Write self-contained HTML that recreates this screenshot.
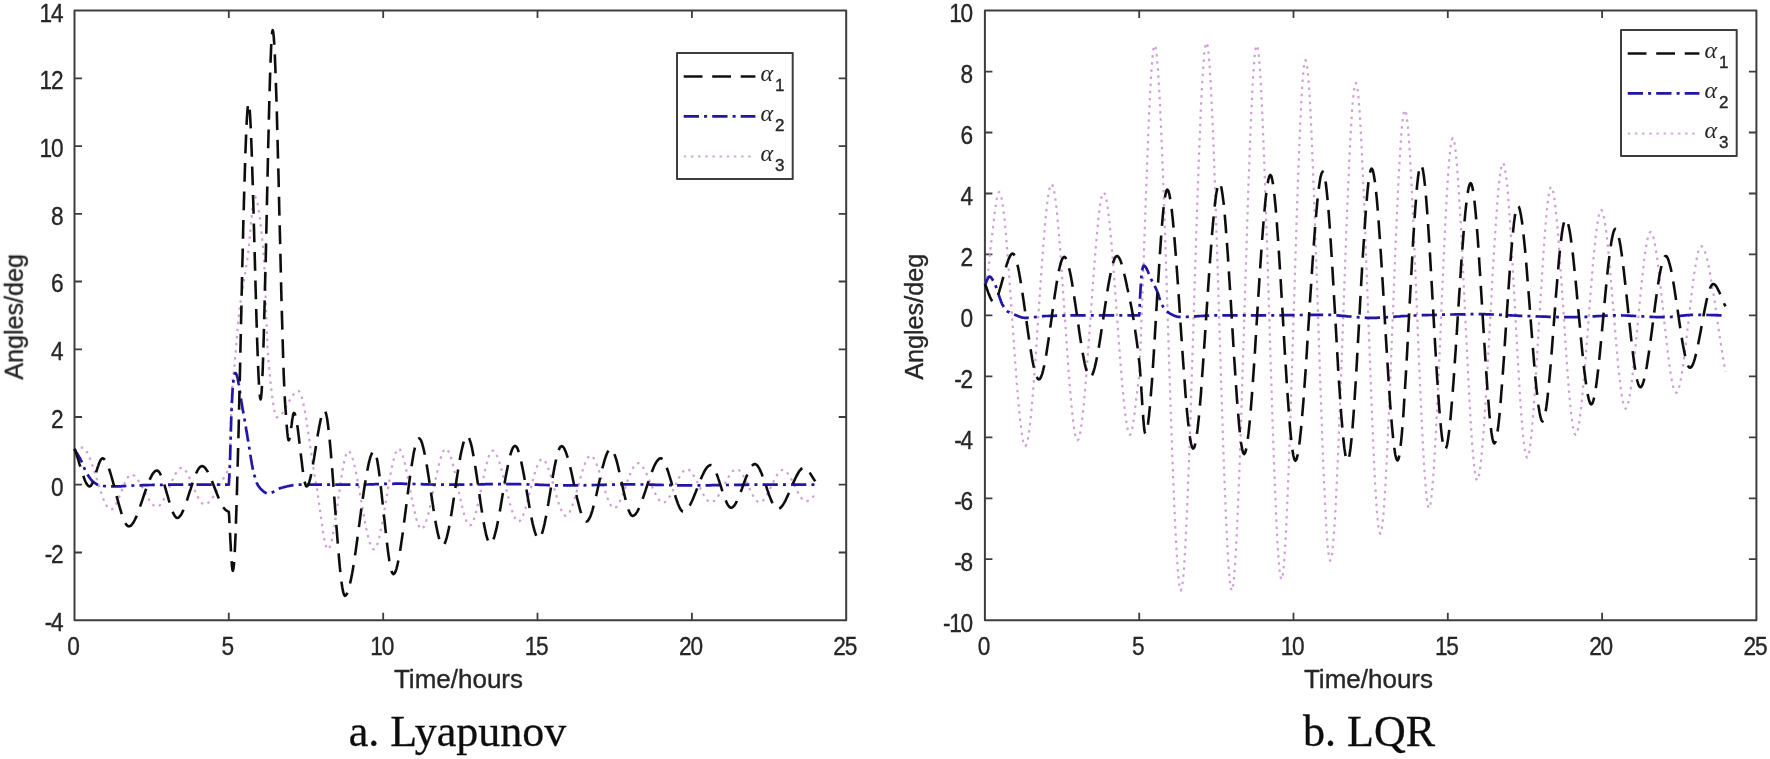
<!DOCTYPE html>
<html><head><meta charset="utf-8"><title>Angles</title>
<style>
html,body{margin:0;padding:0;background:#fff;}
body{width:1770px;height:759px;overflow:hidden;font-family:"Liberation Sans",sans-serif;}
svg{display:block}
.tk{font-family:"Liberation Sans",sans-serif;font-size:25.6px;letter-spacing:-1.4px;fill:#262626}
.lb{font-family:"Liberation Sans",sans-serif;font-size:26px;fill:#262626}
.tk,.lb,.sub{stroke:#262626;stroke-width:0.35px}
.cap{stroke:#111;stroke-width:0.3px}
.cap{font-family:"Liberation Serif",serif;font-size:44px;fill:#111}
.al{font-family:"Liberation Serif",serif;font-style:italic;font-size:24px;fill:#262626}
.sub{font-family:"Liberation Sans",sans-serif;font-size:17px;fill:#262626}
</style></head><body>
<svg width="1770" height="759" viewBox="0 0 1770 759" stroke-linejoin="round">
<defs><filter id="soft" x="0" y="0" width="1770" height="759" filterUnits="userSpaceOnUse"><feGaussianBlur stdDeviation="0.6"/></filter></defs>
<rect width="1770" height="759" fill="#fff"/>
<g filter="url(#soft)">
<path d="M228.8,620.2v-7.5M228.8,10.6v7.5M383.2,620.2v-7.5M383.2,10.6v7.5M537.5,620.2v-7.5M537.5,10.6v7.5M691.9,620.2v-7.5M691.9,10.6v7.5M74.5,552.5h7.5M846.2,552.5h-7.5M74.5,484.7h7.5M846.2,484.7h-7.5M74.5,417.0h7.5M846.2,417.0h-7.5M74.5,349.3h7.5M846.2,349.3h-7.5M74.5,281.5h7.5M846.2,281.5h-7.5M74.5,213.8h7.5M846.2,213.8h-7.5M74.5,146.1h7.5M846.2,146.1h-7.5M74.5,78.3h7.5M846.2,78.3h-7.5" stroke="#3c3c3c" stroke-width="1.8" fill="none"/>
<rect x="74.5" y="10.6" width="771.7" height="609.6" fill="none" stroke="#3c3c3c" stroke-width="2"/>
<text class="tk" transform="translate(73.0,655.2) scale(0.885,1)" text-anchor="middle">0</text>
<text class="tk" transform="translate(227.3,655.2) scale(0.885,1)" text-anchor="middle">5</text>
<text class="tk" transform="translate(381.7,655.2) scale(0.885,1)" text-anchor="middle">10</text>
<text class="tk" transform="translate(536.0,655.2) scale(0.885,1)" text-anchor="middle">15</text>
<text class="tk" transform="translate(690.4,655.2) scale(0.885,1)" text-anchor="middle">20</text>
<text class="tk" transform="translate(844.7,655.2) scale(0.885,1)" text-anchor="middle">25</text>
<text class="tk" transform="translate(62.3,631.1) scale(0.885,1)" text-anchor="end">-4</text>
<text class="tk" transform="translate(62.3,563.4) scale(0.885,1)" text-anchor="end">-2</text>
<text class="tk" transform="translate(62.3,495.6) scale(0.885,1)" text-anchor="end">0</text>
<text class="tk" transform="translate(62.3,427.9) scale(0.885,1)" text-anchor="end">2</text>
<text class="tk" transform="translate(62.3,360.2) scale(0.885,1)" text-anchor="end">4</text>
<text class="tk" transform="translate(62.3,292.4) scale(0.885,1)" text-anchor="end">6</text>
<text class="tk" transform="translate(62.3,224.7) scale(0.885,1)" text-anchor="end">8</text>
<text class="tk" transform="translate(62.3,157.0) scale(0.885,1)" text-anchor="end">10</text>
<text class="tk" transform="translate(62.3,89.2) scale(0.885,1)" text-anchor="end">12</text>
<text class="tk" transform="translate(62.3,21.5) scale(0.885,1)" text-anchor="end">14</text>
<path d="M74.5,450.9 L74.8,450.7 L75.1,450.6 L75.5,450.4 L75.8,450.2 L76.1,450.0 L76.4,449.9 L76.8,449.7 L77.1,449.5 L77.4,449.3 L77.7,449.1 L78.0,448.9 L78.4,448.8 L78.7,448.6 L79.0,448.4 L79.3,448.3 L79.6,448.1 L80.0,448.0 L80.3,447.9 L80.6,447.7 L80.9,447.7 L81.3,447.6 L81.6,447.5 L81.9,447.5 L82.2,447.5 L83.4,447.8 L84.6,448.7 L85.8,450.1 L87.0,452.1 L88.2,454.4 L89.4,457.2 L90.6,460.2 L91.8,463.5 L93.0,467.1 L94.2,470.8 L95.4,474.6 L96.6,478.5 L97.8,482.3 L99.0,486.1 L100.2,489.8 L101.4,493.4 L102.6,496.7 L103.7,499.8 L104.9,502.5 L106.1,504.9 L107.3,506.8 L108.5,508.2 L109.7,509.1 L110.9,509.5 L111.8,509.3 L112.6,508.8 L113.5,508.0 L114.3,506.9 L115.2,505.5 L116.0,504.0 L116.9,502.3 L117.7,500.4 L118.6,498.4 L119.4,496.3 L120.3,494.2 L121.1,492.0 L122.0,489.8 L122.8,487.7 L123.7,485.6 L124.5,483.6 L125.4,481.7 L126.2,480.0 L127.1,478.5 L127.9,477.2 L128.8,476.1 L129.6,475.3 L130.4,474.7 L131.3,474.6 L132.4,474.7 L133.4,475.2 L134.5,476.0 L135.6,477.0 L136.6,478.2 L137.7,479.6 L138.8,481.2 L139.8,482.9 L140.9,484.8 L142.0,486.7 L143.0,488.7 L144.1,490.7 L145.2,492.7 L146.2,494.6 L147.3,496.6 L148.4,498.4 L149.4,500.1 L150.5,501.7 L151.6,503.1 L152.6,504.4 L153.7,505.4 L154.8,506.1 L155.9,506.6 L156.9,506.7 L157.9,506.5 L159.0,506.0 L160.0,505.1 L161.0,503.9 L162.1,502.4 L163.1,500.7 L164.1,498.7 L165.1,496.6 L166.2,494.4 L167.2,492.1 L168.2,489.7 L169.3,487.3 L170.3,484.8 L171.3,482.5 L172.4,480.1 L173.4,477.9 L174.4,475.8 L175.4,473.9 L176.5,472.2 L177.5,470.7 L178.5,469.5 L179.6,468.6 L180.6,468.0 L181.6,467.8 L182.6,468.0 L183.5,468.5 L184.5,469.4 L185.4,470.5 L186.4,471.9 L187.3,473.5 L188.3,475.3 L189.2,477.3 L190.2,479.4 L191.1,481.6 L192.1,483.8 L193.0,486.1 L194.0,488.4 L194.9,490.6 L195.9,492.8 L196.8,494.9 L197.8,496.9 L198.7,498.7 L199.7,500.3 L200.6,501.7 L201.6,502.8 L202.6,503.7 L203.5,504.2 L204.5,504.4 L205.3,504.3 L206.2,504.0 L207.0,503.6 L207.8,503.1 L208.7,502.4 L209.5,501.5 L210.4,500.6 L211.2,499.5 L212.1,498.4 L212.9,497.1 L213.8,495.8 L214.6,494.4 L215.5,493.0 L216.3,491.5 L217.2,490.0 L218.0,488.4 L218.9,486.9 L219.7,485.3 L220.6,483.7 L221.4,482.2 L222.3,480.6 L223.1,479.1 L224.0,477.7 L224.8,476.3 L225.0,476.0 L225.2,475.6 L225.4,475.3 L225.6,475.0 L225.8,474.6 L226.0,474.3 L226.2,473.9 L226.4,473.6 L226.6,473.2 L226.8,472.9 L226.9,472.5 L227.1,472.2 L227.3,471.8 L227.5,471.4 L227.7,471.1 L227.9,470.7 L228.1,470.3 L228.3,470.0 L228.5,469.6 L228.7,469.2 L228.9,468.9 L229.1,468.5 L229.3,468.2 L229.5,467.8 L229.5,465.7 L229.6,463.5 L229.7,461.3 L229.7,459.1 L229.8,456.9 L229.8,454.6 L229.9,452.4 L230.0,450.1 L230.0,447.9 L230.1,445.6 L230.2,443.4 L230.2,441.1 L230.3,438.9 L230.4,436.7 L230.4,434.6 L230.5,432.4 L230.6,430.3 L230.6,428.3 L230.7,426.3 L230.7,424.3 L230.8,422.4 L230.9,420.5 L230.9,418.7 L231.0,417.0 L231.1,415.3 L231.1,413.6 L231.2,411.9 L231.3,410.3 L231.3,408.6 L231.4,406.9 L231.5,405.3 L231.5,403.7 L231.6,402.1 L231.6,400.5 L231.7,399.0 L231.8,397.5 L231.8,396.0 L231.9,394.6 L232.0,393.2 L232.0,391.9 L232.1,390.6 L232.2,389.4 L232.2,388.2 L232.3,387.0 L232.4,386.0 L232.4,385.0 L232.5,384.0 L232.5,383.1 L232.6,382.2 L232.7,381.2 L232.8,380.3 L232.9,379.5 L232.9,378.7 L233.0,378.0 L233.1,377.2 L233.2,376.5 L233.2,375.9 L233.3,375.2 L233.4,374.6 L233.5,374.0 L233.5,373.4 L233.6,372.7 L233.7,372.1 L233.8,371.5 L233.9,370.9 L233.9,370.3 L234.0,369.7 L234.1,369.0 L234.2,368.4 L234.2,367.7 L234.3,367.0 L234.4,366.2 L234.6,364.4 L234.8,362.4 L234.9,360.5 L235.1,358.4 L235.3,356.3 L235.5,354.2 L235.7,352.0 L235.8,349.8 L236.0,347.5 L236.2,345.3 L236.4,343.0 L236.6,340.8 L236.7,338.6 L236.9,336.3 L237.1,334.1 L237.3,332.0 L237.5,329.8 L237.6,327.8 L237.8,325.7 L238.0,323.8 L238.2,321.9 L238.4,320.1 L238.5,318.4 L238.7,316.8 L239.1,313.5 L239.5,310.3 L239.9,307.3 L240.3,304.4 L240.6,301.6 L241.0,298.9 L241.4,296.3 L241.8,293.8 L242.2,291.3 L242.6,288.9 L243.0,286.6 L243.3,284.2 L243.7,281.9 L244.1,279.6 L244.5,277.3 L244.9,275.0 L245.3,272.6 L245.7,270.2 L246.0,267.8 L246.4,265.3 L246.8,262.7 L247.2,260.1 L247.6,257.3 L248.0,254.4 L248.3,252.2 L248.5,249.7 L248.8,247.0 L249.1,244.2 L249.4,241.2 L249.7,238.2 L250.0,235.0 L250.2,231.8 L250.5,228.6 L250.8,225.4 L251.1,222.2 L251.4,219.1 L251.7,216.0 L251.9,213.1 L252.2,210.3 L252.5,207.7 L252.8,205.3 L253.1,203.2 L253.4,201.3 L253.6,199.6 L253.9,198.3 L254.2,197.3 L254.5,196.7 L254.8,196.5 L255.1,196.7 L255.5,197.0 L255.8,197.7 L256.2,198.5 L256.6,199.6 L256.9,200.9 L257.3,202.4 L257.7,204.1 L258.0,205.9 L258.4,208.0 L258.7,210.2 L259.1,212.6 L259.5,215.2 L259.8,217.9 L260.2,220.7 L260.5,223.7 L260.9,226.8 L261.3,230.0 L261.6,233.3 L262.0,236.7 L262.3,240.2 L262.7,243.7 L263.1,247.4 L263.4,251.1 L263.6,253.5 L263.8,256.4 L264.0,259.9 L264.2,263.7 L264.4,268.0 L264.6,272.7 L264.9,277.6 L265.1,282.8 L265.3,288.1 L265.5,293.6 L265.7,299.3 L265.9,305.0 L266.1,310.6 L266.3,316.3 L266.5,321.8 L266.7,327.2 L266.9,332.4 L267.1,337.4 L267.3,342.1 L267.5,346.4 L267.7,350.4 L267.9,353.9 L268.1,356.9 L268.4,359.4 L268.7,363.3 L269.1,367.1 L269.4,370.8 L269.8,374.5 L270.2,378.1 L270.5,381.6 L270.9,385.0 L271.2,388.3 L271.6,391.4 L272.0,394.4 L272.3,397.3 L272.7,400.0 L273.0,402.6 L273.4,405.0 L273.8,407.2 L274.1,409.2 L274.5,411.1 L274.8,412.7 L275.2,414.0 L275.6,415.2 L275.9,416.1 L276.3,416.8 L276.6,417.2 L277.0,417.3 L277.9,417.2 L278.8,416.8 L279.7,416.2 L280.5,415.4 L281.4,414.4 L282.3,413.2 L283.2,411.9 L284.1,410.5 L285.0,409.0 L285.9,407.4 L286.8,405.8 L287.6,404.1 L288.5,402.5 L289.4,400.9 L290.3,399.3 L291.2,397.8 L292.1,396.4 L293.0,395.1 L293.9,393.9 L294.7,392.9 L295.6,392.1 L296.5,391.4 L297.4,391.1 L298.3,390.9 L299.0,391.2 L299.8,392.2 L300.5,393.6 L301.3,395.6 L302.0,398.1 L302.8,401.1 L303.5,404.4 L304.3,408.1 L305.0,412.1 L305.8,416.4 L306.5,421.0 L307.2,425.8 L308.0,430.7 L308.7,435.8 L309.5,440.9 L310.2,446.1 L311.0,451.3 L311.7,456.5 L312.5,461.6 L313.2,466.6 L314.0,471.5 L314.7,476.1 L315.5,480.6 L316.2,484.7 L316.7,487.5 L317.2,490.4 L317.7,493.6 L318.2,496.8 L318.6,500.2 L319.1,503.7 L319.6,507.3 L320.1,510.9 L320.6,514.4 L321.1,518.0 L321.6,521.5 L322.1,525.0 L322.6,528.3 L323.0,531.5 L323.5,534.5 L324.0,537.3 L324.5,539.9 L325.0,542.3 L325.5,544.3 L326.0,546.1 L326.5,547.5 L326.9,548.5 L327.4,549.2 L327.9,549.4 L328.8,548.9 L329.6,547.5 L330.5,545.2 L331.3,542.1 L332.2,538.4 L333.0,534.1 L333.9,529.2 L334.7,524.0 L335.6,518.3 L336.4,512.5 L337.3,506.4 L338.1,500.3 L339.0,494.2 L339.8,488.1 L340.7,482.3 L341.5,476.7 L342.4,471.4 L343.2,466.6 L344.1,462.2 L344.9,458.5 L345.8,455.4 L346.6,453.1 L347.5,451.7 L348.3,451.2 L349.4,451.7 L350.4,453.1 L351.5,455.4 L352.6,458.5 L353.6,462.2 L354.7,466.6 L355.8,471.4 L356.8,476.7 L357.9,482.3 L359.0,488.1 L360.0,494.2 L361.1,500.3 L362.2,506.4 L363.2,512.5 L364.3,518.3 L365.4,524.0 L366.4,529.2 L367.5,534.1 L368.6,538.4 L369.6,542.1 L370.7,545.2 L371.8,547.5 L372.9,548.9 L373.9,549.4 L374.9,548.9 L376.0,547.4 L377.0,545.1 L378.0,542.0 L379.1,538.1 L380.1,533.7 L381.1,528.7 L382.2,523.3 L383.2,517.6 L384.2,511.6 L385.2,505.4 L386.3,499.1 L387.3,492.9 L388.3,486.7 L389.4,480.7 L390.4,474.9 L391.4,469.5 L392.4,464.6 L393.5,460.1 L394.5,456.3 L395.5,453.2 L396.6,450.8 L397.6,449.3 L398.6,448.8 L399.6,449.2 L400.5,450.4 L401.5,452.3 L402.4,454.8 L403.4,457.8 L404.3,461.4 L405.3,465.3 L406.2,469.6 L407.2,474.2 L408.1,479.0 L409.1,484.0 L410.0,489.0 L411.0,494.0 L411.9,498.9 L412.9,503.7 L413.8,508.3 L414.8,512.6 L415.7,516.6 L416.7,520.1 L417.6,523.2 L418.6,525.6 L419.6,527.5 L420.5,528.7 L421.5,529.1 L422.5,528.7 L423.5,527.5 L424.5,525.6 L425.5,523.2 L426.5,520.1 L427.6,516.6 L428.6,512.6 L429.6,508.3 L430.6,503.7 L431.6,498.9 L432.6,494.0 L433.6,489.0 L434.7,484.0 L435.7,479.0 L436.7,474.2 L437.7,469.6 L438.7,465.3 L439.7,461.4 L440.8,457.8 L441.8,454.8 L442.8,452.3 L443.8,450.4 L444.8,449.2 L445.8,448.8 L446.8,449.2 L447.8,450.3 L448.9,452.1 L449.9,454.5 L450.9,457.4 L451.9,460.8 L452.9,464.6 L453.9,468.7 L454.9,473.1 L455.9,477.6 L456.9,482.3 L457.9,487.1 L458.9,491.9 L459.9,496.6 L460.9,501.2 L461.9,505.5 L462.9,509.6 L463.9,513.4 L464.9,516.8 L465.9,519.7 L466.9,522.1 L467.9,523.9 L468.9,525.0 L469.9,525.4 L470.9,525.0 L471.8,523.9 L472.8,522.2 L473.7,519.8 L474.7,517.0 L475.6,513.7 L476.6,510.0 L477.5,506.0 L478.5,501.7 L479.4,497.2 L480.4,492.6 L481.3,488.0 L482.3,483.3 L483.2,478.7 L484.2,474.2 L485.1,469.9 L486.1,465.9 L487.1,462.2 L488.0,458.9 L489.0,456.1 L489.9,453.7 L490.9,452.0 L491.8,450.9 L492.8,450.5 L493.8,450.9 L494.9,451.9 L496.0,453.6 L497.0,455.8 L498.1,458.5 L499.2,461.6 L500.2,465.1 L501.3,469.0 L502.4,473.0 L503.4,477.3 L504.5,481.7 L505.6,486.1 L506.6,490.5 L507.7,494.9 L508.8,499.1 L509.8,503.2 L510.9,507.0 L512.0,510.5 L513.0,513.7 L514.1,516.4 L515.2,518.6 L516.2,520.2 L517.3,521.3 L518.4,521.6 L519.4,521.3 L520.4,520.4 L521.4,519.0 L522.3,517.0 L523.3,514.6 L524.3,511.9 L525.3,508.8 L526.3,505.4 L527.3,501.8 L528.3,498.1 L529.3,494.2 L530.3,490.3 L531.3,486.4 L532.2,482.6 L533.2,478.8 L534.2,475.2 L535.2,471.9 L536.2,468.8 L537.2,466.0 L538.2,463.6 L539.2,461.7 L540.2,460.2 L541.2,459.3 L542.2,459.0 L543.1,459.3 L544.1,460.1 L545.1,461.4 L546.1,463.2 L547.1,465.4 L548.1,467.9 L549.1,470.7 L550.1,473.7 L551.1,477.0 L552.1,480.4 L553.0,483.9 L554.0,487.4 L555.0,491.0 L556.0,494.5 L557.0,497.9 L558.0,501.1 L559.0,504.2 L560.0,507.0 L561.0,509.5 L562.0,511.7 L562.9,513.4 L563.9,514.8 L564.9,515.6 L565.9,515.9 L566.9,515.6 L568.0,514.7 L569.0,513.3 L570.0,511.4 L571.1,509.1 L572.1,506.5 L573.1,503.5 L574.2,500.3 L575.2,496.8 L576.2,493.2 L577.2,489.5 L578.3,485.7 L579.3,482.0 L580.3,478.3 L581.4,474.7 L582.4,471.2 L583.4,468.0 L584.4,465.0 L585.5,462.4 L586.5,460.1 L587.5,458.2 L588.6,456.8 L589.6,455.9 L590.6,455.6 L591.6,455.9 L592.6,456.6 L593.5,457.9 L594.5,459.5 L595.5,461.5 L596.5,463.8 L597.5,466.4 L598.4,469.2 L599.4,472.2 L600.4,475.4 L601.4,478.6 L602.3,481.9 L603.3,485.1 L604.3,488.4 L605.3,491.5 L606.3,494.5 L607.2,497.3 L608.2,499.9 L609.2,502.2 L610.2,504.2 L611.1,505.8 L612.1,507.1 L613.1,507.8 L614.1,508.1 L615.1,507.9 L616.1,507.2 L617.0,506.2 L618.0,504.8 L619.0,503.1 L620.0,501.1 L621.0,498.8 L622.0,496.4 L623.0,493.8 L624.0,491.2 L625.0,488.4 L626.0,485.6 L626.9,482.8 L627.9,480.0 L628.9,477.3 L629.9,474.7 L630.9,472.3 L631.9,470.1 L632.9,468.1 L633.9,466.4 L634.9,465.0 L635.9,463.9 L636.9,463.3 L637.8,463.1 L638.9,463.3 L640.0,463.8 L641.0,464.8 L642.1,466.0 L643.1,467.5 L644.2,469.2 L645.2,471.2 L646.3,473.3 L647.3,475.6 L648.4,478.0 L649.4,480.4 L650.5,482.9 L651.6,485.3 L652.6,487.8 L653.7,490.1 L654.7,492.4 L655.8,494.5 L656.8,496.5 L657.9,498.2 L658.9,499.7 L660.0,501.0 L661.0,501.9 L662.1,502.5 L663.2,502.7 L664.1,502.5 L665.1,502.0 L666.1,501.2 L667.1,500.2 L668.1,498.9 L669.1,497.4 L670.1,495.8 L671.1,494.0 L672.1,492.1 L673.1,490.1 L674.0,488.0 L675.0,485.9 L676.0,483.8 L677.0,481.8 L678.0,479.8 L679.0,477.8 L680.0,476.0 L681.0,474.4 L682.0,472.9 L683.0,471.6 L684.0,470.6 L684.9,469.8 L685.9,469.3 L686.9,469.2 L687.9,469.3 L688.9,469.8 L689.9,470.6 L690.9,471.6 L691.9,472.9 L692.9,474.3 L693.9,476.0 L694.9,477.8 L696.0,479.7 L697.0,481.6 L698.0,483.7 L699.0,485.7 L700.0,487.8 L701.0,489.9 L702.0,491.8 L703.0,493.7 L704.0,495.5 L705.0,497.2 L706.0,498.6 L707.0,499.9 L708.0,500.9 L709.0,501.7 L710.0,502.2 L711.0,502.3 L712.1,502.2 L713.1,501.7 L714.2,500.9 L715.3,499.9 L716.3,498.6 L717.4,497.2 L718.5,495.5 L719.5,493.7 L720.6,491.8 L721.7,489.9 L722.7,487.8 L723.8,485.7 L724.9,483.7 L725.9,481.6 L727.0,479.7 L728.1,477.8 L729.1,476.0 L730.2,474.3 L731.3,472.9 L732.3,471.6 L733.4,470.6 L734.5,469.8 L735.6,469.3 L736.6,469.2 L737.6,469.3 L738.5,469.8 L739.5,470.6 L740.5,471.6 L741.4,472.9 L742.4,474.3 L743.4,476.0 L744.3,477.8 L745.3,479.7 L746.3,481.6 L747.2,483.7 L748.2,485.7 L749.2,487.8 L750.1,489.9 L751.1,491.8 L752.1,493.7 L753.0,495.5 L754.0,497.2 L754.9,498.6 L755.9,499.9 L756.9,500.9 L757.8,501.7 L758.8,502.2 L759.8,502.3 L760.7,502.2 L761.7,501.7 L762.7,500.9 L763.6,499.9 L764.6,498.7 L765.6,497.3 L766.5,495.7 L767.5,493.9 L768.5,492.1 L769.4,490.1 L770.4,488.1 L771.3,486.1 L772.3,484.1 L773.3,482.1 L774.2,480.1 L775.2,478.3 L776.2,476.5 L777.1,474.9 L778.1,473.5 L779.1,472.2 L780.0,471.2 L781.0,470.5 L782.0,470.0 L782.9,469.8 L783.9,470.0 L784.8,470.5 L785.8,471.2 L786.8,472.2 L787.7,473.4 L788.7,474.8 L789.7,476.3 L790.6,478.0 L791.6,479.8 L792.6,481.7 L793.5,483.6 L794.5,485.6 L795.5,487.5 L796.4,489.5 L797.4,491.4 L798.4,493.2 L799.3,494.9 L800.3,496.4 L801.2,497.8 L802.2,499.0 L803.2,500.0 L804.1,500.7 L805.1,501.2 L806.1,501.3 L806.5,501.3 L806.8,501.2 L807.2,501.1 L807.6,501.0 L808.0,500.8 L808.4,500.6 L808.8,500.4 L809.2,500.1 L809.5,499.9 L809.9,499.6 L810.3,499.2 L810.7,498.9 L811.1,498.6 L811.5,498.2 L811.9,497.9 L812.2,497.5 L812.6,497.2 L813.0,496.8 L813.4,496.5 L813.8,496.1 L814.2,495.8 L814.6,495.5 L814.9,495.2 L815.3,494.9" fill="none" stroke="#d0a0d6" stroke-width="2.2" stroke-dasharray="2.5 4.66"/>
<path d="M74.5,449.2 L74.8,449.7 L75.1,450.3 L75.5,450.8 L75.8,451.4 L76.1,451.9 L76.4,452.4 L76.8,453.0 L77.1,453.5 L77.4,454.0 L77.7,454.5 L78.0,455.1 L78.4,455.6 L78.7,456.1 L79.0,456.7 L79.3,457.2 L79.6,457.8 L80.0,458.4 L80.3,459.0 L80.6,459.5 L80.9,460.1 L81.3,460.8 L81.6,461.4 L81.9,462.1 L82.2,462.7 L82.4,463.0 L82.5,463.3 L82.6,463.7 L82.8,464.0 L82.9,464.4 L83.1,464.8 L83.2,465.1 L83.3,465.5 L83.5,465.9 L83.6,466.3 L83.8,466.7 L83.9,467.1 L84.1,467.5 L84.2,467.9 L84.3,468.2 L84.5,468.6 L84.6,469.0 L84.8,469.3 L84.9,469.7 L85.0,470.0 L85.2,470.3 L85.3,470.6 L85.5,470.9 L85.6,471.2 L86.0,471.8 L86.3,472.4 L86.7,473.0 L87.0,473.6 L87.3,474.2 L87.7,474.8 L88.0,475.3 L88.4,475.9 L88.7,476.4 L89.1,476.9 L89.4,477.4 L89.8,477.9 L90.1,478.4 L90.5,478.8 L90.8,479.3 L91.2,479.7 L91.5,480.1 L91.9,480.5 L92.2,480.9 L92.6,481.2 L92.9,481.5 L93.3,481.8 L93.6,482.1 L93.9,482.4 L94.2,482.6 L94.5,482.8 L94.8,483.0 L95.1,483.2 L95.4,483.4 L95.6,483.5 L95.9,483.7 L96.2,483.9 L96.5,484.1 L96.8,484.3 L97.1,484.4 L97.3,484.6 L97.6,484.7 L97.9,484.9 L98.2,485.0 L98.5,485.1 L98.8,485.2 L99.0,485.4 L99.3,485.4 L99.6,485.5 L99.9,485.6 L100.2,485.7 L100.5,485.7 L100.7,485.7 L101.3,485.8 L101.9,485.9 L102.5,485.9 L103.1,486.0 L103.6,486.0 L104.2,486.0 L104.8,486.1 L105.4,486.1 L105.9,486.2 L106.5,486.2 L107.1,486.2 L107.7,486.3 L108.3,486.3 L108.8,486.3 L109.4,486.3 L110.0,486.4 L110.6,486.4 L111.2,486.4 L111.7,486.4 L112.3,486.4 L112.9,486.4 L113.5,486.4 L114.0,486.4 L114.6,486.4 L115.5,486.4 L116.4,486.4 L117.3,486.4 L118.2,486.4 L119.1,486.3 L120.0,486.3 L120.9,486.3 L121.8,486.2 L122.7,486.2 L123.6,486.1 L124.5,486.1 L125.4,486.0 L126.3,485.9 L127.2,485.9 L128.1,485.8 L129.0,485.8 L129.9,485.7 L130.8,485.7 L131.7,485.6 L132.6,485.6 L133.5,485.5 L134.4,485.5 L135.3,485.4 L136.2,485.4 L137.5,485.4 L138.8,485.3 L140.1,485.3 L141.4,485.3 L142.7,485.2 L144.0,485.2 L145.2,485.1 L146.5,485.1 L147.8,485.1 L149.1,485.0 L150.4,485.0 L151.7,485.0 L153.0,484.9 L154.2,484.9 L155.5,484.9 L156.8,484.8 L158.1,484.8 L159.4,484.8 L160.7,484.8 L162.0,484.8 L163.2,484.7 L164.5,484.7 L165.8,484.7 L167.1,484.7 L169.7,484.7 L172.2,484.7 L174.8,484.7 L177.4,484.7 L180.0,484.7 L182.5,484.7 L185.1,484.7 L187.7,484.7 L190.3,484.7 L192.8,484.7 L195.4,484.7 L198.0,484.7 L200.5,484.7 L203.1,484.7 L205.7,484.7 L208.3,484.7 L210.8,484.7 L213.4,484.7 L216.0,484.7 L218.6,484.7 L221.1,484.7 L223.7,484.7 L226.3,484.7 L228.8,484.7 L228.9,484.0 L228.9,483.3 L229.0,482.7 L229.0,482.0 L229.0,481.4 L229.1,480.7 L229.1,480.1 L229.1,479.4 L229.2,478.8 L229.2,478.1 L229.3,477.5 L229.3,476.8 L229.3,476.1 L229.4,475.5 L229.4,474.8 L229.5,474.1 L229.5,473.4 L229.5,472.6 L229.6,471.9 L229.6,471.1 L229.7,470.3 L229.7,469.5 L229.7,468.7 L229.8,467.8 L229.8,466.2 L229.9,464.6 L230.0,462.7 L230.0,460.8 L230.1,458.7 L230.2,456.6 L230.2,454.4 L230.3,452.1 L230.3,449.8 L230.4,447.4 L230.5,445.0 L230.5,442.5 L230.6,440.1 L230.7,437.7 L230.7,435.3 L230.8,433.0 L230.9,430.7 L230.9,428.4 L231.0,426.3 L231.1,424.2 L231.1,422.2 L231.2,420.3 L231.2,418.6 L231.3,417.0 L231.4,415.2 L231.5,413.3 L231.5,411.5 L231.6,409.7 L231.7,408.0 L231.8,406.2 L231.8,404.5 L231.9,402.8 L232.0,401.1 L232.1,399.5 L232.2,397.9 L232.2,396.3 L232.3,394.8 L232.4,393.4 L232.5,392.0 L232.5,390.7 L232.6,389.5 L232.7,388.3 L232.8,387.3 L232.9,386.3 L232.9,385.3 L233.0,384.5 L233.1,383.8 L233.2,383.1 L233.3,382.5 L233.3,381.8 L233.4,381.1 L233.5,380.5 L233.6,379.9 L233.7,379.2 L233.8,378.6 L233.9,378.1 L234.0,377.5 L234.1,377.0 L234.2,376.5 L234.2,376.0 L234.3,375.6 L234.4,375.1 L234.5,374.7 L234.6,374.4 L234.7,374.1 L234.8,373.8 L234.9,373.5 L235.0,373.3 L235.1,373.2 L235.1,373.1 L235.2,373.0 L235.3,373.0 L235.6,373.1 L236.0,373.5 L236.3,374.1 L236.6,374.8 L236.9,375.8 L237.3,377.0 L237.6,378.3 L237.9,379.8 L238.2,381.4 L238.5,383.2 L238.9,385.0 L239.2,386.9 L239.5,388.9 L239.8,391.0 L240.1,393.1 L240.5,395.2 L240.8,397.3 L241.1,399.4 L241.4,401.5 L241.8,403.6 L242.1,405.6 L242.4,407.6 L242.7,409.5 L243.0,411.2 L243.3,412.4 L243.5,413.6 L243.7,414.8 L243.9,416.1 L244.1,417.3 L244.4,418.5 L244.6,419.8 L244.8,421.1 L245.0,422.3 L245.2,423.6 L245.4,424.9 L245.7,426.2 L245.9,427.5 L246.1,428.8 L246.3,430.1 L246.5,431.4 L246.8,432.7 L247.0,434.0 L247.2,435.3 L247.4,436.6 L247.6,437.9 L247.8,439.2 L248.1,440.4 L248.3,441.7 L248.5,442.9 L248.7,444.2 L248.9,445.5 L249.1,446.8 L249.3,448.1 L249.5,449.4 L249.7,450.8 L249.9,452.1 L250.1,453.5 L250.3,454.8 L250.6,456.2 L250.8,457.5 L251.0,458.8 L251.2,460.1 L251.4,461.3 L251.6,462.6 L251.8,463.8 L252.0,464.9 L252.2,466.1 L252.4,467.1 L252.6,468.1 L252.8,469.1 L253.0,470.0 L253.2,470.8 L253.4,471.7 L253.7,472.5 L253.9,473.4 L254.1,474.2 L254.3,475.0 L254.5,475.8 L254.8,476.6 L255.0,477.3 L255.2,478.1 L255.4,478.8 L255.6,479.5 L255.8,480.2 L256.1,480.9 L256.3,481.5 L256.5,482.1 L256.7,482.7 L256.9,483.2 L257.2,483.7 L257.4,484.2 L257.6,484.7 L257.8,485.1 L258.0,485.5 L258.3,485.8 L258.5,486.1 L258.9,486.6 L259.3,487.1 L259.7,487.6 L260.1,488.1 L260.5,488.6 L260.9,489.0 L261.4,489.5 L261.8,489.9 L262.2,490.3 L262.6,490.7 L263.0,491.0 L263.4,491.4 L263.8,491.7 L264.2,492.0 L264.6,492.3 L265.1,492.5 L265.5,492.8 L265.9,493.0 L266.3,493.1 L266.7,493.3 L267.1,493.4 L267.5,493.5 L267.9,493.5 L268.4,493.5 L268.9,493.5 L269.4,493.5 L269.9,493.3 L270.4,493.2 L270.9,493.0 L271.4,492.8 L271.9,492.6 L272.4,492.4 L272.9,492.1 L273.4,491.8 L273.9,491.5 L274.4,491.2 L274.9,490.9 L275.4,490.6 L275.9,490.3 L276.4,490.0 L276.9,489.7 L277.4,489.4 L277.9,489.1 L278.4,488.9 L278.9,488.7 L279.4,488.5 L279.9,488.3 L280.4,488.1 L281.2,487.9 L281.9,487.7 L282.7,487.5 L283.5,487.3 L284.2,487.1 L285.0,486.9 L285.8,486.7 L286.6,486.5 L287.3,486.3 L288.1,486.1 L288.9,486.0 L289.6,485.8 L290.4,485.7 L291.2,485.5 L292.0,485.4 L292.7,485.2 L293.5,485.1 L294.3,485.0 L295.1,484.9 L295.8,484.9 L296.6,484.8 L297.4,484.8 L298.1,484.7 L298.9,484.7 L301.1,484.7 L303.4,484.7 L305.6,484.7 L307.8,484.7 L310.0,484.7 L312.3,484.7 L314.5,484.7 L316.7,484.7 L318.9,484.7 L321.2,484.7 L323.4,484.7 L325.6,484.7 L327.8,484.7 L330.1,484.7 L332.3,484.7 L334.5,484.7 L336.7,484.7 L339.0,484.7 L341.2,484.7 L343.4,484.7 L345.6,484.7 L347.9,484.7 L350.1,484.7 L352.3,484.7 L354.2,484.7 L356.2,484.7 L358.1,484.7 L360.0,484.7 L362.0,484.6 L363.9,484.6 L365.8,484.5 L367.7,484.5 L369.7,484.4 L371.6,484.4 L373.5,484.3 L375.5,484.2 L377.4,484.2 L379.3,484.1 L381.3,484.0 L383.2,484.0 L385.1,483.9 L387.0,483.9 L389.0,483.8 L390.9,483.8 L392.8,483.8 L394.8,483.7 L396.7,483.7 L398.6,483.7 L400.5,483.7 L402.5,483.7 L404.4,483.8 L406.3,483.8 L408.3,483.8 L410.2,483.9 L412.1,483.9 L414.0,484.0 L416.0,484.0 L417.9,484.1 L419.8,484.2 L421.8,484.2 L423.7,484.3 L425.6,484.4 L427.6,484.4 L429.5,484.5 L431.4,484.5 L433.3,484.6 L435.3,484.6 L437.2,484.7 L439.1,484.7 L441.1,484.7 L443.0,484.7 L444.9,484.7 L447.5,484.7 L450.1,484.7 L452.6,484.7 L455.2,484.7 L457.8,484.7 L460.4,484.6 L462.9,484.6 L465.5,484.6 L468.1,484.5 L470.6,484.5 L473.2,484.4 L475.8,484.4 L478.4,484.4 L480.9,484.3 L483.5,484.3 L486.1,484.2 L488.6,484.2 L491.2,484.2 L493.8,484.1 L496.4,484.1 L498.9,484.1 L501.5,484.1 L504.1,484.1 L506.7,484.1 L509.2,484.1 L511.8,484.1 L514.4,484.1 L516.9,484.2 L519.5,484.2 L522.1,484.3 L524.7,484.3 L527.2,484.4 L529.8,484.5 L532.4,484.6 L534.9,484.6 L537.5,484.7 L540.1,484.8 L542.7,484.9 L545.2,485.0 L547.8,485.1 L550.4,485.1 L553.0,485.2 L555.5,485.3 L558.1,485.3 L560.7,485.4 L563.2,485.4 L565.8,485.4 L568.4,485.4 L571.0,485.4 L573.5,485.4 L576.1,485.4 L578.7,485.3 L581.2,485.3 L583.8,485.3 L586.4,485.2 L589.0,485.1 L591.5,485.1 L594.1,485.0 L596.7,485.0 L599.3,484.9 L601.8,484.8 L604.4,484.8 L607.0,484.7 L609.5,484.7 L612.1,484.6 L614.7,484.6 L617.3,484.5 L619.8,484.5 L622.4,484.4 L625.0,484.4 L627.6,484.4 L630.1,484.4 L632.7,484.4 L635.3,484.4 L637.8,484.4 L640.4,484.5 L643.0,484.5 L645.6,484.6 L648.1,484.6 L650.7,484.7 L653.3,484.7 L655.8,484.8 L658.4,484.8 L661.0,484.9 L663.6,485.0 L666.1,485.0 L668.7,485.1 L671.3,485.1 L673.9,485.2 L676.4,485.3 L679.0,485.3 L681.6,485.3 L684.1,485.4 L686.7,485.4 L689.3,485.4 L691.9,485.4 L694.4,485.4 L697.0,485.4 L699.6,485.4 L702.1,485.4 L704.7,485.3 L707.3,485.3 L709.9,485.3 L712.4,485.2 L715.0,485.2 L717.6,485.2 L720.2,485.1 L722.7,485.1 L725.3,485.0 L727.9,485.0 L730.4,484.9 L733.0,484.9 L735.6,484.9 L738.2,484.8 L740.7,484.8 L743.3,484.8 L745.9,484.8 L748.5,484.7 L751.0,484.7 L753.6,484.7 L756.2,484.7 L758.7,484.7 L761.3,484.7 L763.9,484.7 L766.5,484.7 L769.0,484.7 L771.6,484.7 L774.2,484.7 L776.7,484.7 L779.3,484.7 L781.9,484.7 L784.5,484.7 L787.0,484.7 L789.6,484.7 L792.2,484.7 L794.8,484.7 L797.3,484.7 L799.9,484.7 L802.5,484.7 L805.0,484.7 L807.6,484.7 L810.2,484.7 L812.8,484.7 L815.3,484.7" fill="none" stroke="#2016a8" stroke-width="2.7" stroke-dasharray="15.3 5.1 3 5.1"/>
<path d="M74.5,448.8 L75.1,450.5 L75.8,452.2 L76.4,454.0 L77.0,456.0 L77.7,458.0 L78.3,460.0 L78.9,462.1 L79.5,464.1 L80.2,466.2 L80.8,468.3 L81.4,470.3 L82.1,472.3 L82.7,474.3 L83.3,476.1 L84.0,477.8 L84.6,479.5 L85.2,481.0 L85.8,482.3 L86.5,483.5 L87.1,484.5 L87.7,485.3 L88.4,485.9 L89.0,486.3 L89.6,486.4 L90.2,486.3 L90.7,485.9 L91.2,485.2 L91.8,484.3 L92.3,483.3 L92.9,482.0 L93.4,480.6 L93.9,479.1 L94.5,477.5 L95.0,475.9 L95.6,474.1 L96.1,472.4 L96.6,470.6 L97.2,468.9 L97.7,467.2 L98.3,465.6 L98.8,464.1 L99.3,462.7 L99.9,461.5 L100.4,460.4 L101.0,459.5 L101.5,458.9 L102.0,458.5 L102.6,458.3 L103.7,458.7 L104.8,459.7 L105.9,461.2 L107.0,463.4 L108.1,465.9 L109.1,469.0 L110.2,472.3 L111.3,476.0 L112.4,479.9 L113.5,483.9 L114.6,488.1 L115.7,492.4 L116.8,496.6 L117.9,500.8 L119.0,504.9 L120.1,508.7 L121.2,512.4 L122.3,515.8 L123.4,518.8 L124.5,521.3 L125.5,523.5 L126.6,525.0 L127.7,526.0 L128.8,526.4 L130.0,526.1 L131.2,525.3 L132.3,524.0 L133.5,522.3 L134.7,520.1 L135.9,517.7 L137.0,514.9 L138.2,511.9 L139.4,508.7 L140.5,505.4 L141.7,501.9 L142.9,498.4 L144.0,495.0 L145.2,491.5 L146.4,488.2 L147.6,485.0 L148.7,482.0 L149.9,479.2 L151.1,476.8 L152.2,474.6 L153.4,472.9 L154.6,471.6 L155.7,470.8 L156.9,470.5 L157.8,470.7 L158.6,471.4 L159.5,472.5 L160.3,474.0 L161.2,475.8 L162.0,477.9 L162.9,480.3 L163.7,482.8 L164.6,485.5 L165.4,488.3 L166.3,491.3 L167.1,494.2 L168.0,497.2 L168.8,500.1 L169.7,502.9 L170.5,505.6 L171.3,508.2 L172.2,510.5 L173.0,512.6 L173.9,514.4 L174.7,515.9 L175.6,517.0 L176.4,517.7 L177.3,517.9 L178.3,517.7 L179.3,516.9 L180.4,515.7 L181.4,514.1 L182.4,512.1 L183.5,509.8 L184.5,507.3 L185.5,504.5 L186.6,501.5 L187.6,498.4 L188.6,495.2 L189.6,492.0 L190.7,488.8 L191.7,485.6 L192.7,482.5 L193.8,479.5 L194.8,476.8 L195.8,474.2 L196.8,471.9 L197.9,469.9 L198.9,468.3 L199.9,467.1 L201.0,466.4 L202.0,466.1 L203.0,466.3 L204.0,466.9 L205.0,467.8 L205.9,469.0 L206.9,470.4 L207.9,472.2 L208.9,474.1 L209.9,476.2 L210.9,478.5 L211.9,480.9 L212.9,483.4 L213.9,485.9 L214.9,488.5 L215.8,491.1 L216.8,493.6 L217.8,496.1 L218.8,498.5 L219.8,500.8 L220.8,502.9 L221.8,504.8 L222.8,506.6 L223.8,508.0 L224.8,509.2 L225.8,510.1 L225.9,510.2 L226.0,510.3 L226.1,510.4 L226.3,510.5 L226.4,510.6 L226.5,510.6 L226.7,510.7 L226.8,510.8 L226.9,510.9 L227.0,510.9 L227.2,511.0 L227.3,511.1 L227.4,511.1 L227.6,511.2 L227.7,511.2 L227.8,511.3 L227.9,511.4 L228.1,511.4 L228.2,511.5 L228.3,511.6 L228.5,511.6 L228.6,511.7 L228.7,511.8 L228.8,511.8 L229.0,514.4 L229.2,517.1 L229.3,520.0 L229.5,523.0 L229.7,526.1 L229.8,529.3 L230.0,532.6 L230.2,535.8 L230.3,539.1 L230.5,542.3 L230.7,545.5 L230.8,548.7 L231.0,551.7 L231.2,554.6 L231.3,557.3 L231.5,559.8 L231.7,562.2 L231.8,564.3 L232.0,566.2 L232.2,567.8 L232.4,569.0 L232.5,570.0 L232.7,570.6 L232.9,570.8 L233.5,568.4 L234.2,561.6 L234.8,550.7 L235.5,536.1 L236.1,518.3 L236.8,497.7 L237.4,474.6 L238.1,449.5 L238.8,422.8 L239.4,394.8 L240.1,366.1 L240.7,336.9 L241.4,307.7 L242.0,279.0 L242.7,251.0 L243.3,224.3 L244.0,199.2 L244.7,176.1 L245.3,155.5 L246.0,137.7 L246.6,123.2 L247.3,112.3 L247.9,105.4 L248.6,103.1 L249.1,104.6 L249.6,108.9 L250.1,115.8 L250.6,125.0 L251.1,136.3 L251.6,149.4 L252.1,164.0 L252.6,179.9 L253.1,196.8 L253.6,214.5 L254.1,232.7 L254.6,251.2 L255.1,269.7 L255.6,287.9 L256.1,305.6 L256.6,322.6 L257.1,338.5 L257.6,353.1 L258.1,366.2 L258.6,377.4 L259.1,386.7 L259.6,393.6 L260.1,397.9 L260.6,399.4 L261.1,397.5 L261.6,392.1 L262.1,383.5 L262.6,372.0 L263.1,358.0 L263.6,341.7 L264.1,323.5 L264.6,303.7 L265.1,282.6 L265.7,260.5 L266.2,237.8 L266.7,214.8 L267.2,191.8 L267.7,169.1 L268.2,147.0 L268.7,125.9 L269.2,106.1 L269.7,87.9 L270.2,71.6 L270.7,57.6 L271.2,46.1 L271.7,37.5 L272.2,32.1 L272.7,30.2 L273.2,31.9 L273.7,36.6 L274.3,44.1 L274.8,54.2 L275.3,66.6 L275.8,81.1 L276.4,97.4 L276.9,115.2 L277.4,134.4 L277.9,154.6 L278.5,175.6 L279.0,197.1 L279.5,219.0 L280.1,240.9 L280.6,262.6 L281.1,283.8 L281.6,304.4 L282.2,323.9 L282.7,342.3 L283.2,359.1 L283.7,374.3 L284.3,387.4 L284.8,398.4 L285.3,406.8 L285.5,408.8 L285.6,410.7 L285.8,412.7 L285.9,414.6 L286.0,416.6 L286.2,418.5 L286.3,420.5 L286.5,422.3 L286.6,424.2 L286.7,426.0 L286.9,427.7 L287.0,429.3 L287.2,430.9 L287.3,432.4 L287.5,433.8 L287.6,435.1 L287.7,436.2 L287.9,437.3 L288.0,438.2 L288.2,438.9 L288.3,439.6 L288.4,440.0 L288.6,440.3 L288.7,440.4 L288.9,440.2 L289.2,439.8 L289.4,439.2 L289.6,438.3 L289.8,437.3 L290.0,436.1 L290.3,434.7 L290.5,433.3 L290.7,431.7 L290.9,430.0 L291.1,428.4 L291.3,426.7 L291.6,424.9 L291.8,423.3 L292.0,421.6 L292.2,420.0 L292.4,418.6 L292.7,417.2 L292.9,416.0 L293.1,415.0 L293.3,414.1 L293.5,413.5 L293.8,413.1 L294.0,412.9 L294.5,413.3 L295.0,414.4 L295.6,416.1 L296.1,418.4 L296.6,421.2 L297.1,424.4 L297.7,428.0 L298.2,432.0 L298.7,436.2 L299.2,440.6 L299.8,445.1 L300.3,449.7 L300.8,454.3 L301.4,458.8 L301.9,463.2 L302.4,467.4 L302.9,471.3 L303.5,474.9 L304.0,478.2 L304.5,481.0 L305.0,483.3 L305.6,485.0 L306.1,486.1 L306.6,486.4 L307.4,486.0 L308.1,484.9 L308.9,483.2 L309.6,480.8 L310.4,477.9 L311.1,474.6 L311.8,470.8 L312.6,466.8 L313.3,462.4 L314.1,457.9 L314.8,453.2 L315.6,448.5 L316.3,443.8 L317.1,439.1 L317.8,434.6 L318.6,430.2 L319.3,426.2 L320.1,422.4 L320.8,419.1 L321.5,416.2 L322.3,413.8 L323.0,412.1 L323.8,410.9 L324.5,410.6 L325.4,411.5 L326.2,414.2 L327.1,418.5 L327.9,424.3 L328.8,431.3 L329.6,439.5 L330.5,448.6 L331.3,458.6 L332.2,469.2 L333.0,480.2 L333.9,491.6 L334.7,503.2 L335.6,514.7 L336.4,526.1 L337.3,537.2 L338.1,547.8 L339.0,557.7 L339.8,566.9 L340.7,575.0 L341.5,582.1 L342.4,587.9 L343.2,592.2 L344.1,594.9 L344.9,595.8 L346.1,595.1 L347.3,593.0 L348.5,589.6 L349.7,585.1 L350.9,579.6 L352.2,573.2 L353.4,566.1 L354.6,558.3 L355.8,550.1 L357.0,541.4 L358.2,532.5 L359.4,523.5 L360.6,514.5 L361.8,505.6 L363.0,497.0 L364.2,488.7 L365.5,480.9 L366.7,473.8 L367.9,467.4 L369.1,461.9 L370.3,457.4 L371.5,454.1 L372.7,451.9 L373.9,451.2 L374.7,451.8 L375.5,453.6 L376.4,456.5 L377.2,460.3 L378.0,465.0 L378.8,470.4 L379.6,476.5 L380.4,483.1 L381.2,490.1 L382.0,497.4 L382.8,505.0 L383.6,512.7 L384.5,520.3 L385.3,527.9 L386.1,535.2 L386.9,542.3 L387.7,548.9 L388.5,554.9 L389.3,560.4 L390.1,565.0 L390.9,568.9 L391.7,571.7 L392.6,573.5 L393.4,574.1 L394.4,573.5 L395.5,571.5 L396.6,568.3 L397.6,564.1 L398.7,558.9 L399.8,552.9 L400.8,546.2 L401.9,538.9 L403.0,531.2 L404.0,523.1 L405.1,514.7 L406.2,506.2 L407.2,497.8 L408.3,489.4 L409.4,481.3 L410.4,473.5 L411.5,466.3 L412.6,459.6 L413.6,453.6 L414.7,448.4 L415.8,444.2 L416.9,441.0 L417.9,439.0 L419.0,438.3 L420.0,438.9 L421.0,440.4 L422.0,442.9 L422.9,446.3 L423.9,450.3 L424.9,455.1 L425.9,460.3 L426.9,466.1 L427.9,472.2 L428.9,478.6 L429.9,485.2 L430.9,491.8 L431.9,498.5 L432.9,505.1 L433.8,511.5 L434.8,517.6 L435.8,523.4 L436.8,528.6 L437.8,533.4 L438.8,537.4 L439.8,540.8 L440.8,543.2 L441.8,544.8 L442.8,545.4 L443.8,544.8 L444.8,543.2 L445.8,540.7 L446.8,537.3 L447.8,533.1 L448.9,528.3 L449.9,522.9 L450.9,517.0 L451.9,510.7 L452.9,504.2 L453.9,497.5 L454.9,490.7 L456.0,483.8 L457.0,477.1 L458.0,470.6 L459.0,464.3 L460.0,458.5 L461.0,453.1 L462.1,448.2 L463.1,444.1 L464.1,440.7 L465.1,438.1 L466.1,436.5 L467.1,436.0 L468.1,436.5 L469.1,438.1 L470.0,440.6 L471.0,443.9 L472.0,448.0 L472.9,452.8 L473.9,458.1 L474.9,463.9 L475.8,470.0 L476.8,476.5 L477.8,483.1 L478.7,489.8 L479.7,496.5 L480.6,503.2 L481.6,509.6 L482.6,515.7 L483.5,521.5 L484.5,526.8 L485.5,531.6 L486.4,535.7 L487.4,539.0 L488.4,541.5 L489.3,543.1 L490.3,543.7 L491.3,543.2 L492.3,541.7 L493.4,539.5 L494.4,536.4 L495.4,532.7 L496.5,528.4 L497.5,523.5 L498.5,518.3 L499.6,512.7 L500.6,506.8 L501.6,500.8 L502.6,494.7 L503.7,488.6 L504.7,482.6 L505.7,476.8 L506.8,471.2 L507.8,465.9 L508.8,461.1 L509.8,456.8 L510.9,453.0 L511.9,450.0 L512.9,447.7 L514.0,446.3 L515.0,445.8 L516.0,446.3 L517.0,447.6 L518.0,449.8 L518.9,452.7 L519.9,456.2 L520.9,460.3 L521.9,464.9 L522.9,469.8 L523.9,475.1 L524.9,480.7 L525.9,486.4 L526.9,492.2 L527.9,498.0 L528.9,503.7 L529.8,509.2 L530.8,514.5 L531.8,519.5 L532.8,524.1 L533.8,528.2 L534.8,531.7 L535.8,534.6 L536.8,536.8 L537.8,538.1 L538.8,538.6 L539.7,538.1 L540.7,536.8 L541.6,534.6 L542.6,531.7 L543.5,528.2 L544.5,524.1 L545.4,519.6 L546.4,514.6 L547.3,509.3 L548.3,503.8 L549.2,498.1 L550.2,492.4 L551.1,486.6 L552.1,480.9 L553.0,475.4 L554.0,470.1 L554.9,465.1 L555.9,460.6 L556.8,456.5 L557.8,453.0 L558.7,450.1 L559.7,447.9 L560.6,446.6 L561.6,446.1 L562.6,446.5 L563.7,447.6 L564.7,449.4 L565.7,451.7 L566.7,454.6 L567.8,457.9 L568.8,461.7 L569.8,465.7 L570.9,470.0 L571.9,474.5 L572.9,479.2 L573.9,483.9 L575.0,488.6 L576.0,493.2 L577.0,497.8 L578.1,502.1 L579.1,506.1 L580.1,509.8 L581.1,513.2 L582.2,516.1 L583.2,518.4 L584.2,520.2 L585.3,521.3 L586.3,521.6 L587.3,521.3 L588.3,520.2 L589.3,518.5 L590.4,516.3 L591.4,513.5 L592.4,510.3 L593.4,506.7 L594.4,502.8 L595.4,498.6 L596.5,494.3 L597.5,489.8 L598.5,485.2 L599.5,480.7 L600.5,476.2 L601.5,471.9 L602.5,467.7 L603.6,463.8 L604.6,460.2 L605.6,457.0 L606.6,454.2 L607.6,452.0 L608.6,450.3 L609.7,449.2 L610.7,448.8 L611.6,449.2 L612.5,450.2 L613.4,451.7 L614.3,453.8 L615.2,456.4 L616.2,459.3 L617.1,462.6 L618.0,466.2 L618.9,470.1 L619.8,474.1 L620.7,478.2 L621.6,482.4 L622.5,486.5 L623.5,490.7 L624.4,494.7 L625.3,498.5 L626.2,502.1 L627.1,505.4 L628.0,508.4 L628.9,510.9 L629.9,513.0 L630.8,514.6 L631.7,515.6 L632.6,515.9 L633.8,515.6 L634.9,514.8 L636.1,513.4 L637.3,511.6 L638.4,509.4 L639.6,506.9 L640.8,504.1 L642.0,501.0 L643.1,497.7 L644.3,494.2 L645.5,490.7 L646.6,487.1 L647.8,483.5 L649.0,480.0 L650.1,476.5 L651.3,473.2 L652.5,470.2 L653.7,467.3 L654.8,464.8 L656.0,462.6 L657.2,460.8 L658.3,459.5 L659.5,458.6 L660.7,458.3 L661.6,458.6 L662.6,459.4 L663.5,460.6 L664.5,462.3 L665.4,464.3 L666.4,466.7 L667.3,469.3 L668.3,472.2 L669.2,475.2 L670.2,478.4 L671.2,481.7 L672.1,485.1 L673.1,488.4 L674.0,491.7 L675.0,494.9 L675.9,498.0 L676.9,500.8 L677.8,503.5 L678.8,505.8 L679.7,507.9 L680.7,509.5 L681.6,510.8 L682.6,511.6 L683.5,511.8 L684.7,511.6 L685.8,510.9 L686.9,509.8 L688.1,508.4 L689.2,506.6 L690.3,504.5 L691.4,502.2 L692.6,499.7 L693.7,497.0 L694.8,494.2 L696.0,491.4 L697.1,488.5 L698.2,485.5 L699.4,482.7 L700.5,479.9 L701.6,477.2 L702.8,474.7 L703.9,472.4 L705.0,470.3 L706.2,468.6 L707.3,467.1 L708.4,466.0 L709.6,465.3 L710.7,465.1 L711.5,465.3 L712.4,465.9 L713.2,466.9 L714.1,468.3 L714.9,469.9 L715.8,471.8 L716.6,473.9 L717.5,476.2 L718.3,478.6 L719.2,481.1 L720.0,483.8 L720.9,486.4 L721.7,489.1 L722.6,491.7 L723.4,494.3 L724.3,496.7 L725.1,499.0 L726.0,501.1 L726.8,503.0 L727.7,504.6 L728.5,505.9 L729.4,506.9 L730.2,507.5 L731.1,507.8 L732.1,507.5 L733.0,506.9 L734.0,505.9 L735.0,504.5 L736.0,502.9 L737.0,500.9 L738.0,498.8 L739.0,496.4 L740.0,493.9 L741.0,491.3 L742.0,488.6 L742.9,485.9 L743.9,483.2 L744.9,480.5 L745.9,477.9 L746.9,475.4 L747.9,473.1 L748.9,470.9 L749.9,469.0 L750.9,467.3 L751.9,466.0 L752.9,464.9 L753.8,464.3 L754.8,464.1 L755.8,464.3 L756.7,465.0 L757.7,466.0 L758.6,467.4 L759.6,469.1 L760.5,471.1 L761.5,473.3 L762.4,475.8 L763.4,478.3 L764.3,481.0 L765.3,483.8 L766.3,486.6 L767.2,489.4 L768.2,492.2 L769.1,494.9 L770.1,497.4 L771.0,499.9 L772.0,502.1 L772.9,504.1 L773.9,505.8 L774.8,507.2 L775.8,508.2 L776.7,508.9 L777.7,509.1 L778.8,508.9 L779.9,508.3 L781.0,507.3 L782.1,506.0 L783.2,504.4 L784.3,502.6 L785.4,500.6 L786.5,498.3 L787.6,495.9 L788.7,493.4 L789.8,490.9 L790.9,488.3 L792.1,485.7 L793.2,483.1 L794.3,480.6 L795.4,478.3 L796.5,476.0 L797.6,474.0 L798.7,472.1 L799.8,470.5 L800.9,469.3 L802.0,468.3 L803.1,467.7 L804.2,467.5 L804.7,467.5 L805.1,467.6 L805.6,467.9 L806.1,468.2 L806.5,468.5 L807.0,469.0 L807.5,469.5 L807.9,470.0 L808.4,470.6 L808.8,471.3 L809.3,472.0 L809.8,472.7 L810.2,473.4 L810.7,474.2 L811.2,474.9 L811.6,475.7 L812.1,476.5 L812.6,477.2 L813.0,478.0 L813.5,478.7 L813.9,479.4 L814.4,480.1 L814.9,480.7 L815.3,481.3" fill="none" stroke="#111111" stroke-width="2.6" stroke-dasharray="18.8 9.7"/>
<rect x="677" y="53" width="115.7" height="126" fill="#fff" stroke="#3c3c3c" stroke-width="2"/>
<path d="M683.7,76.5H755.4" stroke="#111111" stroke-width="2.6" stroke-dasharray="18.8 9.7" fill="none"/>
<path d="M683.7,116.3H755.4" stroke="#2016a8" stroke-width="2.7" stroke-dasharray="15.3 5.1 3 5.1" fill="none"/>
<path d="M683.7,156.4H751.4" stroke="#d4aeda" stroke-width="2" stroke-dasharray="2.6 4.56" fill="none"/>
<text class="al" x="760.5" y="81.1">α</text>
<text class="sub" x="775.0" y="91.0">1</text>
<text class="al" x="760.5" y="120.9">α</text>
<text class="sub" x="775.0" y="130.8">2</text>
<text class="al" x="760.5" y="161.0">α</text>
<text class="sub" x="775.0" y="170.9">3</text>
<path d="M1139.2,620.2v-7.5M1139.2,10.6v7.5M1293.5,620.2v-7.5M1293.5,10.6v7.5M1447.8,620.2v-7.5M1447.8,10.6v7.5M1602.1,620.2v-7.5M1602.1,10.6v7.5M984.9,559.2h7.5M1756.4,559.2h-7.5M984.9,498.3h7.5M1756.4,498.3h-7.5M984.9,437.3h7.5M1756.4,437.3h-7.5M984.9,376.4h7.5M1756.4,376.4h-7.5M984.9,315.4h7.5M1756.4,315.4h-7.5M984.9,254.4h7.5M1756.4,254.4h-7.5M984.9,193.5h7.5M1756.4,193.5h-7.5M984.9,132.5h7.5M1756.4,132.5h-7.5M984.9,71.6h7.5M1756.4,71.6h-7.5" stroke="#3c3c3c" stroke-width="1.8" fill="none"/>
<rect x="984.9" y="10.6" width="771.5000000000001" height="609.6" fill="none" stroke="#3c3c3c" stroke-width="2"/>
<text class="tk" transform="translate(983.4,655.2) scale(0.885,1)" text-anchor="middle">0</text>
<text class="tk" transform="translate(1137.7,655.2) scale(0.885,1)" text-anchor="middle">5</text>
<text class="tk" transform="translate(1292.0,655.2) scale(0.885,1)" text-anchor="middle">10</text>
<text class="tk" transform="translate(1446.3,655.2) scale(0.885,1)" text-anchor="middle">15</text>
<text class="tk" transform="translate(1600.6,655.2) scale(0.885,1)" text-anchor="middle">20</text>
<text class="tk" transform="translate(1754.9,655.2) scale(0.885,1)" text-anchor="middle">25</text>
<text class="tk" transform="translate(971.9,632.0) scale(0.885,1)" text-anchor="end">-10</text>
<text class="tk" transform="translate(971.9,571.0) scale(0.885,1)" text-anchor="end">-8</text>
<text class="tk" transform="translate(971.9,510.1) scale(0.885,1)" text-anchor="end">-6</text>
<text class="tk" transform="translate(971.9,449.1) scale(0.885,1)" text-anchor="end">-4</text>
<text class="tk" transform="translate(971.9,388.2) scale(0.885,1)" text-anchor="end">-2</text>
<text class="tk" transform="translate(971.9,327.2) scale(0.885,1)" text-anchor="end">0</text>
<text class="tk" transform="translate(971.9,266.2) scale(0.885,1)" text-anchor="end">2</text>
<text class="tk" transform="translate(971.9,205.3) scale(0.885,1)" text-anchor="end">4</text>
<text class="tk" transform="translate(971.9,144.3) scale(0.885,1)" text-anchor="end">6</text>
<text class="tk" transform="translate(971.9,83.4) scale(0.885,1)" text-anchor="end">8</text>
<text class="tk" transform="translate(971.9,22.4) scale(0.885,1)" text-anchor="end">10</text>
<path d="M984.9,284.9 L985.0,284.3 L985.2,283.7 L985.3,283.1 L985.5,282.5 L985.6,281.9 L985.7,281.4 L985.9,280.8 L986.0,280.3 L986.2,279.7 L986.3,279.1 L986.5,278.6 L986.6,278.0 L986.7,277.4 L986.9,276.8 L987.0,276.2 L987.2,275.6 L987.3,274.9 L987.4,274.3 L987.6,273.6 L987.7,272.9 L987.9,272.1 L988.0,271.3 L988.2,270.5 L988.3,269.7 L988.4,268.9 L988.5,268.1 L988.6,267.2 L988.8,266.3 L988.9,265.3 L989.0,264.3 L989.1,263.2 L989.2,262.1 L989.3,260.9 L989.5,259.7 L989.6,258.5 L989.7,257.3 L989.8,256.1 L989.9,254.9 L990.0,253.7 L990.1,252.5 L990.3,251.3 L990.4,250.1 L990.5,248.9 L990.6,247.8 L990.7,246.7 L990.8,245.7 L991.0,244.7 L991.1,243.8 L991.4,241.1 L991.7,238.3 L992.1,235.5 L992.4,232.6 L992.7,229.7 L993.1,226.8 L993.4,223.9 L993.7,221.0 L994.1,218.1 L994.4,215.3 L994.7,212.6 L995.1,210.0 L995.4,207.5 L995.8,205.1 L996.1,202.8 L996.4,200.7 L996.8,198.8 L997.1,197.1 L997.4,195.6 L997.8,194.3 L998.1,193.3 L998.4,192.6 L998.8,192.1 L999.1,192.0 L1000.2,193.2 L1001.3,197.0 L1002.4,202.9 L1003.5,210.8 L1004.6,220.5 L1005.7,231.7 L1006.7,244.2 L1007.8,257.9 L1008.9,272.4 L1010.0,287.6 L1011.1,303.2 L1012.2,319.1 L1013.3,334.9 L1014.4,350.5 L1015.5,365.7 L1016.6,380.3 L1017.7,393.9 L1018.8,406.4 L1019.9,417.7 L1021.0,427.3 L1022.0,435.2 L1023.1,441.2 L1024.2,444.9 L1025.3,446.2 L1026.4,444.8 L1027.5,441.0 L1028.6,434.9 L1029.7,426.7 L1030.8,416.8 L1031.9,405.2 L1033.0,392.3 L1034.1,378.2 L1035.2,363.2 L1036.3,347.6 L1037.3,331.4 L1038.4,315.1 L1039.5,298.8 L1040.6,282.6 L1041.7,267.0 L1042.8,252.0 L1043.9,237.9 L1045.0,225.0 L1046.1,213.4 L1047.2,203.4 L1048.3,195.3 L1049.4,189.2 L1050.5,185.4 L1051.6,184.0 L1052.6,185.3 L1053.7,189.1 L1054.8,195.0 L1055.9,203.0 L1057.0,212.8 L1058.0,224.1 L1059.1,236.7 L1060.2,250.5 L1061.3,265.1 L1062.4,280.5 L1063.4,296.2 L1064.5,312.2 L1065.6,328.2 L1066.7,343.9 L1067.8,359.3 L1068.8,373.9 L1069.9,387.7 L1071.0,400.3 L1072.1,411.6 L1073.2,421.4 L1074.2,429.4 L1075.3,435.3 L1076.4,439.1 L1077.5,440.4 L1078.6,439.1 L1079.7,435.5 L1080.8,429.7 L1081.9,422.0 L1082.9,412.6 L1084.0,401.6 L1085.1,389.4 L1086.2,376.1 L1087.3,362.0 L1088.4,347.2 L1089.5,331.9 L1090.6,316.5 L1091.7,301.0 L1092.8,285.8 L1093.9,271.0 L1095.0,256.8 L1096.1,243.5 L1097.2,231.3 L1098.2,220.4 L1099.3,210.9 L1100.4,203.2 L1101.5,197.4 L1102.6,193.8 L1103.7,192.6 L1104.8,193.8 L1105.9,197.3 L1107.0,203.0 L1108.1,210.5 L1109.2,219.7 L1110.3,230.4 L1111.4,242.4 L1112.5,255.4 L1113.5,269.2 L1114.6,283.7 L1115.7,298.6 L1116.8,313.7 L1117.9,328.8 L1119.0,343.7 L1120.1,358.2 L1121.2,372.1 L1122.3,385.1 L1123.4,397.0 L1124.5,407.7 L1125.6,416.9 L1126.7,424.5 L1127.8,430.1 L1128.8,433.7 L1129.9,434.9 L1130.3,434.7 L1130.7,434.1 L1131.1,433.2 L1131.5,431.9 L1131.9,430.3 L1132.3,428.5 L1132.6,426.4 L1133.0,424.0 L1133.4,421.5 L1133.8,418.8 L1134.2,415.9 L1134.6,412.9 L1135.0,409.8 L1135.3,406.7 L1135.7,403.4 L1136.1,400.2 L1136.5,397.0 L1136.9,393.7 L1137.3,390.6 L1137.7,387.5 L1138.0,384.5 L1138.4,381.6 L1138.8,378.9 L1139.2,376.4 L1139.8,362.0 L1140.5,346.7 L1141.1,330.5 L1141.8,313.5 L1142.4,296.0 L1143.1,278.1 L1143.7,259.9 L1144.3,241.5 L1145.0,223.1 L1145.6,204.9 L1146.3,187.0 L1146.9,169.5 L1147.6,152.5 L1148.2,136.3 L1148.8,121.0 L1149.5,106.6 L1150.1,93.5 L1150.8,81.6 L1151.4,71.1 L1152.1,62.2 L1152.7,55.0 L1153.3,49.8 L1154.0,46.5 L1154.6,45.3 L1155.7,48.1 L1156.8,56.1 L1157.9,68.8 L1159.0,85.7 L1160.1,106.5 L1161.2,130.5 L1162.3,157.4 L1163.4,186.7 L1164.5,217.9 L1165.6,250.5 L1166.7,284.0 L1167.7,318.0 L1168.8,352.0 L1169.9,385.5 L1171.0,418.1 L1172.1,449.3 L1173.2,478.5 L1174.3,505.4 L1175.4,529.5 L1176.5,550.2 L1177.6,567.2 L1178.7,579.9 L1179.8,587.9 L1180.9,590.6 L1181.9,587.9 L1183.0,579.9 L1184.1,567.1 L1185.1,550.0 L1186.2,529.2 L1187.3,505.0 L1188.3,478.0 L1189.4,448.6 L1190.5,417.2 L1191.5,384.5 L1192.6,350.8 L1193.7,316.6 L1194.7,282.4 L1195.8,248.7 L1196.9,216.0 L1197.9,184.7 L1199.0,155.3 L1200.1,128.2 L1201.1,104.1 L1202.2,83.2 L1203.3,66.2 L1204.3,53.4 L1205.4,45.4 L1206.5,42.6 L1207.5,45.4 L1208.6,53.4 L1209.6,66.2 L1210.7,83.2 L1211.7,104.1 L1212.8,128.2 L1213.9,155.3 L1214.9,184.7 L1216.0,216.0 L1217.0,248.7 L1218.1,282.4 L1219.1,316.6 L1220.2,350.8 L1221.2,384.5 L1222.3,417.2 L1223.3,448.6 L1224.4,478.0 L1225.5,505.0 L1226.5,529.2 L1227.6,550.0 L1228.6,567.1 L1229.7,579.9 L1230.7,587.9 L1231.8,590.6 L1232.8,587.9 L1233.9,579.9 L1234.9,567.2 L1235.9,550.2 L1237.0,529.5 L1238.0,505.4 L1239.1,478.5 L1240.1,449.3 L1241.2,418.1 L1242.2,385.5 L1243.2,352.0 L1244.3,318.0 L1245.3,284.0 L1246.4,250.5 L1247.4,217.9 L1248.4,186.7 L1249.5,157.4 L1250.5,130.5 L1251.6,106.5 L1252.6,85.7 L1253.7,68.8 L1254.7,56.1 L1255.7,48.1 L1256.8,45.3 L1257.8,48.1 L1258.8,55.9 L1259.9,68.3 L1260.9,84.9 L1261.9,105.2 L1262.9,128.8 L1264.0,155.1 L1265.0,183.8 L1266.0,214.3 L1267.1,246.2 L1268.1,279.1 L1269.1,312.4 L1270.1,345.7 L1271.2,378.5 L1272.2,410.4 L1273.2,440.9 L1274.3,469.6 L1275.3,495.9 L1276.3,519.5 L1277.3,539.8 L1278.4,556.4 L1279.4,568.8 L1280.4,576.7 L1281.5,579.4 L1282.5,576.7 L1283.5,569.1 L1284.5,557.0 L1285.5,540.9 L1286.5,521.1 L1287.5,498.2 L1288.5,472.6 L1289.5,444.7 L1290.5,415.0 L1291.5,384.0 L1292.5,352.1 L1293.5,319.7 L1294.5,287.3 L1295.5,255.3 L1296.5,224.3 L1297.5,194.6 L1298.5,166.8 L1299.5,141.1 L1300.5,118.2 L1301.5,98.5 L1302.5,82.3 L1303.5,70.2 L1304.5,62.6 L1305.5,60.0 L1306.6,62.5 L1307.6,69.8 L1308.6,81.5 L1309.7,97.1 L1310.7,116.1 L1311.7,138.2 L1312.7,162.9 L1313.8,189.8 L1314.8,218.4 L1315.8,248.4 L1316.9,279.1 L1317.9,310.4 L1318.9,341.6 L1319.9,372.4 L1321.0,402.3 L1322.0,430.9 L1323.0,457.8 L1324.1,482.5 L1325.1,504.6 L1326.1,523.7 L1327.1,539.2 L1328.2,550.9 L1329.2,558.2 L1330.2,560.8 L1331.3,558.3 L1332.4,551.4 L1333.4,540.2 L1334.5,525.4 L1335.6,507.2 L1336.6,486.1 L1337.7,462.5 L1338.8,436.9 L1339.8,409.5 L1340.9,381.0 L1342.0,351.6 L1343.0,321.8 L1344.1,292.0 L1345.2,262.6 L1346.2,234.1 L1347.3,206.7 L1348.4,181.1 L1349.4,157.5 L1350.5,136.4 L1351.6,118.2 L1352.6,103.4 L1353.7,92.2 L1354.8,85.3 L1355.8,82.8 L1356.9,85.1 L1357.9,91.7 L1358.9,102.2 L1359.9,116.3 L1360.9,133.4 L1361.9,153.3 L1362.9,175.6 L1364.0,199.8 L1365.0,225.6 L1366.0,252.5 L1367.0,280.3 L1368.0,308.4 L1369.0,336.5 L1370.1,364.3 L1371.1,391.2 L1372.1,417.0 L1373.1,441.2 L1374.1,463.5 L1375.1,483.4 L1376.2,500.5 L1377.2,514.6 L1378.2,525.1 L1379.2,531.7 L1380.2,533.9 L1381.2,531.8 L1382.3,525.6 L1383.3,515.7 L1384.3,502.5 L1385.4,486.4 L1386.4,467.7 L1387.4,446.8 L1388.4,424.0 L1389.5,399.8 L1390.5,374.5 L1391.5,348.4 L1392.6,322.0 L1393.6,295.5 L1394.6,269.4 L1395.6,244.1 L1396.7,219.9 L1397.7,197.1 L1398.7,176.2 L1399.8,157.5 L1400.8,141.4 L1401.8,128.2 L1402.8,118.3 L1403.9,112.1 L1404.9,110.0 L1405.9,112.0 L1406.9,117.8 L1407.9,127.1 L1408.9,139.5 L1409.9,154.6 L1410.9,172.2 L1411.9,191.9 L1412.9,213.2 L1413.9,236.0 L1414.9,259.8 L1415.9,284.3 L1416.9,309.2 L1417.9,334.0 L1418.9,358.5 L1419.9,382.3 L1421.0,405.1 L1422.0,426.4 L1423.0,446.1 L1424.0,463.7 L1425.0,478.8 L1426.0,491.2 L1427.0,500.5 L1428.0,506.3 L1429.0,508.3 L1430.0,506.5 L1431.0,501.1 L1431.9,492.4 L1432.9,480.9 L1433.9,466.8 L1434.9,450.5 L1435.9,432.2 L1436.9,412.3 L1437.9,391.2 L1438.9,369.0 L1439.9,346.3 L1440.9,323.2 L1441.8,300.1 L1442.8,277.3 L1443.8,255.2 L1444.8,234.0 L1445.8,214.1 L1446.8,195.9 L1447.8,179.5 L1448.8,165.4 L1449.8,153.9 L1450.8,145.3 L1451.7,139.9 L1452.7,138.0 L1453.8,139.7 L1454.8,144.7 L1455.8,152.7 L1456.8,163.4 L1457.8,176.4 L1458.8,191.5 L1459.8,208.4 L1460.9,226.7 L1461.9,246.3 L1462.9,266.8 L1463.9,287.8 L1464.9,309.2 L1465.9,330.5 L1467.0,351.5 L1468.0,372.0 L1469.0,391.6 L1470.0,409.9 L1471.0,426.8 L1472.0,441.9 L1473.1,454.9 L1474.1,465.6 L1475.1,473.6 L1476.1,478.6 L1477.1,480.3 L1478.2,478.7 L1479.3,474.1 L1480.4,466.7 L1481.4,456.8 L1482.5,444.7 L1483.6,430.7 L1484.7,415.1 L1485.8,398.0 L1486.8,379.9 L1487.9,360.9 L1489.0,341.4 L1490.1,321.6 L1491.2,301.9 L1492.2,282.4 L1493.3,263.4 L1494.4,245.3 L1495.5,228.2 L1496.6,212.6 L1497.6,198.6 L1498.7,186.5 L1499.8,176.6 L1500.9,169.2 L1502.0,164.6 L1503.0,163.0 L1504.0,164.5 L1505.0,168.8 L1506.0,175.7 L1507.1,184.8 L1508.1,196.0 L1509.1,209.1 L1510.1,223.6 L1511.1,239.4 L1512.1,256.3 L1513.1,273.9 L1514.1,292.0 L1515.1,310.4 L1516.1,328.7 L1517.1,346.9 L1518.1,364.5 L1519.1,381.3 L1520.1,397.1 L1521.1,411.7 L1522.1,424.7 L1523.1,435.9 L1524.1,445.1 L1525.1,451.9 L1526.1,456.2 L1527.1,457.7 L1528.1,456.4 L1529.1,452.4 L1530.1,446.1 L1531.1,437.7 L1532.1,427.4 L1533.1,415.4 L1534.1,402.0 L1535.1,387.5 L1536.1,372.0 L1537.1,355.8 L1538.1,339.2 L1539.1,322.3 L1540.1,305.4 L1541.2,288.7 L1542.2,272.5 L1543.2,257.0 L1544.2,242.5 L1545.2,229.1 L1546.2,217.2 L1547.2,206.8 L1548.2,198.4 L1549.2,192.1 L1550.2,188.1 L1551.2,186.8 L1552.2,188.0 L1553.2,191.7 L1554.2,197.4 L1555.2,205.2 L1556.3,214.6 L1557.3,225.5 L1558.3,237.8 L1559.3,251.1 L1560.3,265.3 L1561.3,280.1 L1562.4,295.4 L1563.4,310.8 L1564.4,326.3 L1565.4,341.6 L1566.4,356.4 L1567.4,370.6 L1568.4,383.9 L1569.5,396.1 L1570.5,407.1 L1571.5,416.5 L1572.5,424.2 L1573.5,430.0 L1574.5,433.6 L1575.6,434.9 L1576.6,433.7 L1577.7,430.5 L1578.8,425.2 L1579.8,418.2 L1580.9,409.7 L1582.0,399.7 L1583.0,388.6 L1584.1,376.6 L1585.2,363.7 L1586.2,350.3 L1587.3,336.4 L1588.4,322.4 L1589.4,308.4 L1590.5,294.6 L1591.6,281.1 L1592.6,268.3 L1593.7,256.2 L1594.8,245.1 L1595.8,235.2 L1596.9,226.6 L1598.0,219.6 L1599.0,214.4 L1600.1,211.1 L1601.2,209.9 L1602.2,210.9 L1603.2,213.8 L1604.2,218.5 L1605.2,224.7 L1606.3,232.2 L1607.3,241.0 L1608.3,250.8 L1609.3,261.5 L1610.3,272.8 L1611.3,284.7 L1612.3,296.9 L1613.4,309.3 L1614.4,321.7 L1615.4,333.9 L1616.4,345.8 L1617.4,357.1 L1618.4,367.8 L1619.5,377.6 L1620.5,386.4 L1621.5,393.9 L1622.5,400.1 L1623.5,404.8 L1624.5,407.7 L1625.6,408.7 L1626.6,407.8 L1627.6,405.2 L1628.7,401.1 L1629.7,395.6 L1630.8,388.8 L1631.8,381.0 L1632.8,372.3 L1633.9,362.8 L1634.9,352.7 L1636.0,342.2 L1637.0,331.3 L1638.1,320.3 L1639.1,309.3 L1640.1,298.4 L1641.2,287.8 L1642.2,277.7 L1643.3,268.2 L1644.3,259.5 L1645.3,251.7 L1646.4,245.0 L1647.4,239.5 L1648.5,235.4 L1649.5,232.8 L1650.6,231.9 L1651.6,232.7 L1652.7,235.1 L1653.8,238.8 L1654.8,243.8 L1655.9,249.9 L1657.0,257.0 L1658.0,265.0 L1659.1,273.6 L1660.2,282.8 L1661.2,292.4 L1662.3,302.3 L1663.4,312.4 L1664.4,322.4 L1665.5,332.3 L1666.6,341.9 L1667.6,351.1 L1668.7,359.7 L1669.8,367.7 L1670.8,374.8 L1671.9,380.9 L1673.0,385.9 L1674.0,389.7 L1675.1,392.0 L1676.2,392.8 L1677.2,392.1 L1678.2,389.9 L1679.3,386.5 L1680.3,382.0 L1681.4,376.4 L1682.4,369.9 L1683.5,362.7 L1684.5,354.8 L1685.5,346.4 L1686.6,337.7 L1687.6,328.7 L1688.7,319.5 L1689.7,310.4 L1690.7,301.4 L1691.8,292.6 L1692.8,284.2 L1693.9,276.4 L1694.9,269.1 L1696.0,262.6 L1697.0,257.1 L1698.0,252.5 L1699.1,249.1 L1700.1,247.0 L1701.2,246.2 L1702.2,246.6 L1703.2,247.9 L1704.2,249.9 L1705.2,252.6 L1706.2,256.0 L1707.3,259.9 L1708.3,264.5 L1709.3,269.5 L1710.3,274.9 L1711.3,280.7 L1712.3,286.9 L1713.4,293.3 L1714.4,299.9 L1715.4,306.7 L1716.4,313.7 L1717.4,320.6 L1718.4,327.6 L1719.4,334.5 L1720.5,341.3 L1721.5,348.0 L1722.5,354.4 L1723.5,360.5 L1724.5,366.3 L1725.5,371.8" fill="none" stroke="#d0a0d6" stroke-width="2.2" stroke-dasharray="2.5 4.66"/>
<path d="M984.9,284.9 L985.1,284.6 L985.3,284.2 L985.5,283.8 L985.7,283.4 L985.9,282.9 L986.1,282.5 L986.3,282.0 L986.4,281.6 L986.6,281.1 L986.8,280.7 L987.0,280.2 L987.2,279.8 L987.4,279.4 L987.6,279.0 L987.8,278.6 L988.0,278.2 L988.2,277.9 L988.4,277.6 L988.6,277.3 L988.8,277.1 L989.0,276.9 L989.1,276.8 L989.3,276.7 L989.5,276.7 L989.8,276.7 L990.0,276.8 L990.3,276.9 L990.5,277.0 L990.8,277.2 L991.0,277.5 L991.2,277.7 L991.5,278.0 L991.7,278.4 L992.0,278.7 L992.2,279.1 L992.5,279.5 L992.7,279.9 L992.9,280.3 L993.2,280.8 L993.4,281.3 L993.7,281.7 L993.9,282.2 L994.2,282.7 L994.4,283.2 L994.7,283.7 L994.9,284.2 L995.1,284.7 L995.4,285.2 L995.5,285.4 L995.6,285.7 L995.7,285.9 L995.8,286.2 L995.9,286.4 L996.0,286.7 L996.1,287.0 L996.2,287.3 L996.3,287.6 L996.4,287.9 L996.5,288.2 L996.6,288.5 L996.7,288.8 L996.8,289.1 L996.9,289.5 L997.0,289.8 L997.1,290.1 L997.2,290.4 L997.3,290.7 L997.4,291.0 L997.6,291.3 L997.7,291.6 L997.8,291.9 L997.9,292.2 L998.1,292.8 L998.2,293.3 L998.4,293.9 L998.6,294.5 L998.8,295.0 L999.0,295.6 L999.2,296.2 L999.4,296.8 L999.6,297.3 L999.8,297.9 L1000.0,298.5 L1000.2,299.0 L1000.4,299.6 L1000.6,300.1 L1000.8,300.7 L1000.9,301.2 L1001.1,301.7 L1001.3,302.2 L1001.5,302.7 L1001.7,303.1 L1001.9,303.6 L1002.1,304.0 L1002.3,304.4 L1002.5,304.7 L1002.7,305.1 L1002.9,305.4 L1003.1,305.8 L1003.3,306.1 L1003.5,306.4 L1003.6,306.8 L1003.8,307.1 L1004.0,307.4 L1004.2,307.7 L1004.4,308.0 L1004.6,308.3 L1004.8,308.6 L1005.0,308.8 L1005.2,309.1 L1005.4,309.4 L1005.6,309.6 L1005.8,309.8 L1006.0,310.1 L1006.2,310.3 L1006.3,310.5 L1006.5,310.7 L1006.7,310.8 L1006.9,311.0 L1007.1,311.1 L1007.4,311.3 L1007.7,311.5 L1007.9,311.7 L1008.2,311.8 L1008.5,312.0 L1008.7,312.1 L1009.0,312.3 L1009.3,312.4 L1009.5,312.6 L1009.8,312.7 L1010.1,312.8 L1010.4,312.9 L1010.6,313.0 L1010.9,313.2 L1011.2,313.3 L1011.4,313.4 L1011.7,313.5 L1012.0,313.6 L1012.2,313.7 L1012.5,313.8 L1012.8,313.9 L1013.1,314.0 L1013.3,314.1 L1013.6,314.2 L1014.1,314.4 L1014.6,314.6 L1015.0,314.8 L1015.5,315.0 L1016.0,315.2 L1016.5,315.4 L1016.9,315.6 L1017.4,315.8 L1017.9,316.0 L1018.4,316.2 L1018.8,316.4 L1019.3,316.6 L1019.8,316.7 L1020.3,316.9 L1020.7,317.1 L1021.2,317.2 L1021.7,317.4 L1022.2,317.5 L1022.6,317.6 L1023.1,317.7 L1023.6,317.7 L1024.1,317.8 L1024.5,317.8 L1025.0,317.8 L1025.9,317.8 L1026.8,317.8 L1027.7,317.8 L1028.6,317.7 L1029.5,317.7 L1030.4,317.6 L1031.3,317.5 L1032.2,317.4 L1033.1,317.3 L1034.0,317.2 L1034.9,317.1 L1035.8,317.0 L1036.7,316.9 L1037.6,316.8 L1038.5,316.7 L1039.4,316.6 L1040.3,316.5 L1041.2,316.4 L1042.1,316.3 L1043.0,316.2 L1043.9,316.2 L1044.8,316.1 L1045.7,316.0 L1046.6,316.0 L1047.9,316.0 L1049.2,315.9 L1050.5,315.9 L1051.8,315.8 L1053.0,315.8 L1054.3,315.8 L1055.6,315.7 L1056.9,315.7 L1058.2,315.7 L1059.5,315.6 L1060.8,315.6 L1062.0,315.6 L1063.3,315.6 L1064.6,315.5 L1065.9,315.5 L1067.2,315.5 L1068.5,315.5 L1069.8,315.4 L1071.1,315.4 L1072.3,315.4 L1073.6,315.4 L1074.9,315.4 L1076.2,315.4 L1077.5,315.4 L1080.1,315.4 L1082.6,315.4 L1085.2,315.4 L1087.8,315.4 L1090.3,315.4 L1092.9,315.4 L1095.5,315.4 L1098.1,315.4 L1100.6,315.4 L1103.2,315.4 L1105.8,315.4 L1108.3,315.4 L1110.9,315.4 L1113.5,315.4 L1116.1,315.4 L1118.6,315.4 L1121.2,315.4 L1123.8,315.4 L1126.3,315.4 L1128.9,315.4 L1131.5,315.4 L1134.1,315.4 L1136.6,315.4 L1139.2,315.4 L1139.3,314.4 L1139.3,313.3 L1139.4,312.3 L1139.4,311.2 L1139.5,310.1 L1139.5,309.1 L1139.6,308.0 L1139.6,306.9 L1139.7,305.8 L1139.7,304.7 L1139.8,303.7 L1139.8,302.6 L1139.9,301.5 L1139.9,300.5 L1140.0,299.4 L1140.0,298.4 L1140.1,297.4 L1140.1,296.4 L1140.2,295.4 L1140.2,294.5 L1140.3,293.6 L1140.3,292.7 L1140.4,291.8 L1140.4,291.0 L1140.5,290.0 L1140.6,289.0 L1140.6,288.0 L1140.7,286.9 L1140.8,285.9 L1140.8,284.9 L1140.9,283.9 L1140.9,282.9 L1141.0,281.9 L1141.1,280.9 L1141.1,280.0 L1141.2,279.0 L1141.3,278.1 L1141.3,277.3 L1141.4,276.5 L1141.5,275.7 L1141.5,274.9 L1141.6,274.2 L1141.7,273.6 L1141.7,273.0 L1141.8,272.4 L1141.8,272.0 L1141.9,271.6 L1142.0,271.2 L1142.1,270.8 L1142.1,270.5 L1142.2,270.1 L1142.3,269.7 L1142.4,269.4 L1142.4,269.1 L1142.5,268.7 L1142.6,268.4 L1142.7,268.1 L1142.7,267.9 L1142.8,267.6 L1142.9,267.3 L1143.0,267.1 L1143.1,266.9 L1143.1,266.7 L1143.2,266.5 L1143.3,266.3 L1143.4,266.1 L1143.4,266.0 L1143.5,265.9 L1143.6,265.8 L1143.7,265.8 L1143.8,265.7 L1143.8,265.7 L1144.2,265.8 L1144.5,265.9 L1144.8,266.1 L1145.1,266.4 L1145.4,266.8 L1145.8,267.3 L1146.1,267.8 L1146.4,268.3 L1146.7,268.9 L1147.0,269.6 L1147.4,270.3 L1147.7,271.0 L1148.0,271.8 L1148.3,272.5 L1148.7,273.3 L1149.0,274.1 L1149.3,274.9 L1149.6,275.7 L1149.9,276.5 L1150.3,277.2 L1150.6,278.0 L1150.9,278.7 L1151.2,279.4 L1151.5,280.0 L1151.8,280.5 L1152.0,281.0 L1152.3,281.5 L1152.5,281.9 L1152.8,282.4 L1153.0,282.8 L1153.3,283.3 L1153.5,283.8 L1153.7,284.2 L1154.0,284.7 L1154.2,285.2 L1154.5,285.7 L1154.7,286.1 L1155.0,286.6 L1155.2,287.1 L1155.5,287.6 L1155.7,288.1 L1155.9,288.6 L1156.2,289.2 L1156.4,289.7 L1156.7,290.2 L1156.9,290.8 L1157.2,291.4 L1157.4,291.9 L1157.6,292.4 L1157.8,292.9 L1158.0,293.4 L1158.2,294.0 L1158.4,294.6 L1158.6,295.2 L1158.8,295.8 L1159.0,296.4 L1159.1,297.0 L1159.3,297.7 L1159.5,298.3 L1159.7,298.9 L1159.9,299.6 L1160.1,300.2 L1160.3,300.8 L1160.5,301.3 L1160.7,301.9 L1160.9,302.5 L1161.1,303.0 L1161.3,303.5 L1161.5,303.9 L1161.7,304.3 L1161.8,304.7 L1162.0,305.0 L1162.4,305.6 L1162.7,306.1 L1163.0,306.6 L1163.4,307.1 L1163.7,307.5 L1164.0,308.0 L1164.4,308.4 L1164.7,308.8 L1165.0,309.2 L1165.4,309.6 L1165.7,310.0 L1166.0,310.4 L1166.4,310.7 L1166.7,311.0 L1167.1,311.4 L1167.4,311.7 L1167.7,312.0 L1168.1,312.2 L1168.4,312.5 L1168.7,312.7 L1169.1,313.0 L1169.4,313.2 L1169.7,313.4 L1170.1,313.6 L1170.4,313.8 L1170.8,314.0 L1171.2,314.2 L1171.6,314.4 L1172.0,314.6 L1172.4,314.8 L1172.8,315.0 L1173.1,315.2 L1173.5,315.4 L1173.9,315.6 L1174.3,315.7 L1174.7,315.9 L1175.1,316.0 L1175.5,316.2 L1175.8,316.3 L1176.2,316.4 L1176.6,316.5 L1177.0,316.6 L1177.4,316.7 L1177.8,316.8 L1178.2,316.8 L1178.5,316.9 L1178.9,316.9 L1179.3,316.9 L1180.9,316.9 L1182.4,316.9 L1183.9,316.9 L1185.5,316.8 L1187.0,316.8 L1188.6,316.7 L1190.1,316.6 L1191.7,316.5 L1193.2,316.4 L1194.7,316.4 L1196.3,316.3 L1197.8,316.2 L1199.4,316.1 L1200.9,316.0 L1202.5,315.9 L1204.0,315.8 L1205.5,315.7 L1207.1,315.6 L1208.6,315.6 L1210.2,315.5 L1211.7,315.5 L1213.3,315.4 L1214.8,315.4 L1216.3,315.4 L1218.3,315.4 L1220.2,315.4 L1222.1,315.4 L1224.1,315.4 L1226.0,315.4 L1227.9,315.4 L1229.9,315.4 L1231.8,315.4 L1233.7,315.4 L1235.6,315.4 L1237.6,315.4 L1239.5,315.4 L1241.4,315.4 L1243.4,315.4 L1245.3,315.4 L1247.2,315.4 L1249.1,315.4 L1251.1,315.4 L1253.0,315.4 L1254.9,315.4 L1256.9,315.4 L1258.8,315.4 L1260.7,315.4 L1262.6,315.4 L1265.2,315.4 L1267.8,315.4 L1270.4,315.4 L1272.9,315.4 L1275.5,315.3 L1278.1,315.3 L1280.6,315.3 L1283.2,315.2 L1285.8,315.2 L1288.4,315.2 L1290.9,315.1 L1293.5,315.1 L1296.1,315.1 L1298.6,315.0 L1301.2,315.0 L1303.8,314.9 L1306.4,314.9 L1308.9,314.9 L1311.5,314.9 L1314.1,314.8 L1316.6,314.8 L1319.2,314.8 L1321.8,314.8 L1324.4,314.8 L1326.3,314.8 L1328.2,314.9 L1330.1,314.9 L1332.1,315.0 L1334.0,315.1 L1335.9,315.3 L1337.9,315.4 L1339.8,315.6 L1341.7,315.8 L1343.6,315.9 L1345.6,316.1 L1347.5,316.3 L1349.4,316.5 L1351.4,316.7 L1353.3,316.9 L1355.2,317.0 L1357.1,317.2 L1359.1,317.4 L1361.0,317.5 L1362.9,317.6 L1364.9,317.7 L1366.8,317.8 L1368.7,317.8 L1370.7,317.8 L1372.6,317.8 L1374.5,317.8 L1376.4,317.8 L1378.4,317.7 L1380.3,317.6 L1382.2,317.5 L1384.2,317.4 L1386.1,317.3 L1388.0,317.2 L1389.9,317.1 L1391.9,316.9 L1393.8,316.8 L1395.7,316.6 L1397.7,316.5 L1399.6,316.4 L1401.5,316.2 L1403.4,316.1 L1405.4,316.0 L1407.3,315.9 L1409.2,315.7 L1411.2,315.6 L1413.1,315.5 L1415.0,315.5 L1416.9,315.4 L1419.5,315.3 L1422.1,315.2 L1424.7,315.2 L1427.2,315.1 L1429.8,315.0 L1432.4,315.0 L1434.9,314.9 L1437.5,314.8 L1440.1,314.7 L1442.7,314.7 L1445.2,314.6 L1447.8,314.6 L1450.4,314.5 L1452.9,314.5 L1455.5,314.4 L1458.1,314.4 L1460.7,314.3 L1463.2,314.3 L1465.8,314.3 L1468.4,314.2 L1470.9,314.2 L1473.5,314.2 L1476.1,314.2 L1478.7,314.2 L1480.6,314.2 L1482.5,314.2 L1484.4,314.2 L1486.4,314.3 L1488.3,314.3 L1490.2,314.4 L1492.2,314.5 L1494.1,314.5 L1496.0,314.6 L1497.9,314.7 L1499.9,314.8 L1501.8,314.9 L1503.7,315.0 L1505.7,315.1 L1507.6,315.2 L1509.5,315.3 L1511.4,315.4 L1513.4,315.5 L1515.3,315.6 L1517.2,315.7 L1519.2,315.8 L1521.1,315.9 L1523.0,315.9 L1525.0,316.0 L1526.9,316.1 L1528.8,316.1 L1530.7,316.2 L1532.7,316.3 L1534.6,316.3 L1536.5,316.4 L1538.5,316.5 L1540.4,316.5 L1542.3,316.6 L1544.2,316.7 L1546.2,316.7 L1548.1,316.8 L1550.0,316.9 L1552.0,316.9 L1553.9,317.0 L1555.8,317.0 L1557.7,317.1 L1559.7,317.1 L1561.6,317.1 L1563.5,317.2 L1565.5,317.2 L1567.4,317.2 L1569.3,317.2 L1571.2,317.2 L1573.2,317.2 L1575.1,317.2 L1577.0,317.2 L1579.0,317.1 L1580.9,317.0 L1582.8,316.9 L1584.7,316.9 L1586.7,316.8 L1588.6,316.7 L1590.5,316.5 L1592.5,316.4 L1594.4,316.3 L1596.3,316.2 L1598.2,316.1 L1600.2,316.0 L1602.1,315.9 L1604.0,315.8 L1606.0,315.7 L1607.9,315.6 L1609.8,315.5 L1611.7,315.5 L1613.7,315.4 L1615.6,315.4 L1617.5,315.4 L1619.5,315.4 L1621.4,315.4 L1623.3,315.5 L1625.2,315.5 L1627.2,315.6 L1629.1,315.7 L1631.0,315.8 L1633.0,315.9 L1634.9,316.0 L1636.8,316.1 L1638.7,316.2 L1640.7,316.3 L1642.6,316.4 L1644.5,316.5 L1646.5,316.7 L1648.4,316.8 L1650.3,316.9 L1652.2,316.9 L1654.2,317.0 L1656.1,317.1 L1658.0,317.2 L1660.0,317.2 L1661.9,317.2 L1663.8,317.2 L1665.1,317.2 L1666.4,317.2 L1667.7,317.1 L1669.0,317.0 L1670.2,317.0 L1671.5,316.8 L1672.8,316.7 L1674.1,316.6 L1675.4,316.5 L1676.7,316.3 L1678.0,316.2 L1679.2,316.0 L1680.5,315.9 L1681.8,315.7 L1683.1,315.6 L1684.4,315.4 L1685.7,315.3 L1687.0,315.2 L1688.3,315.1 L1689.5,315.0 L1690.8,314.9 L1692.1,314.8 L1693.4,314.8 L1694.7,314.8 L1696.0,314.8 L1697.3,314.8 L1698.5,314.8 L1699.8,314.8 L1701.1,314.8 L1702.4,314.9 L1703.7,314.9 L1705.0,314.9 L1706.3,314.9 L1707.5,315.0 L1708.8,315.0 L1710.1,315.0 L1711.4,315.1 L1712.7,315.1 L1714.0,315.1 L1715.3,315.2 L1716.5,315.2 L1717.8,315.2 L1719.1,315.3 L1720.4,315.3 L1721.7,315.3 L1723.0,315.3 L1724.3,315.4 L1725.5,315.4" fill="none" stroke="#2016a8" stroke-width="2.7" stroke-dasharray="15.3 5.1 3 5.1"/>
<path d="M984.9,284.0 L985.3,284.8 L985.6,285.6 L986.0,286.5 L986.3,287.4 L986.7,288.3 L987.1,289.3 L987.4,290.2 L987.8,291.2 L988.1,292.2 L988.5,293.2 L988.9,294.1 L989.2,295.1 L989.6,296.0 L989.9,296.8 L990.3,297.6 L990.7,298.4 L991.0,299.1 L991.4,299.8 L991.7,300.3 L992.1,300.8 L992.5,301.2 L992.8,301.4 L993.2,301.6 L993.5,301.7 L994.3,301.4 L995.1,300.7 L995.9,299.6 L996.7,298.1 L997.5,296.3 L998.3,294.2 L999.1,291.8 L999.9,289.2 L1000.7,286.4 L1001.5,283.6 L1002.3,280.6 L1003.1,277.6 L1003.9,274.6 L1004.7,271.6 L1005.5,268.8 L1006.3,266.0 L1007.1,263.4 L1007.9,261.1 L1008.7,258.9 L1009.5,257.1 L1010.3,255.6 L1011.1,254.5 L1011.9,253.8 L1012.7,253.5 L1013.8,254.2 L1014.9,256.0 L1016.0,258.9 L1017.0,262.9 L1018.1,267.6 L1019.2,273.2 L1020.3,279.4 L1021.4,286.2 L1022.5,293.4 L1023.6,300.9 L1024.7,308.6 L1025.8,316.5 L1026.9,324.3 L1028.0,332.1 L1029.1,339.6 L1030.2,346.8 L1031.3,353.5 L1032.3,359.7 L1033.4,365.3 L1034.5,370.1 L1035.6,374.0 L1036.7,376.9 L1037.8,378.8 L1038.9,379.4 L1040.0,378.8 L1041.0,377.0 L1042.1,374.1 L1043.1,370.3 L1044.2,365.7 L1045.2,360.3 L1046.3,354.2 L1047.3,347.6 L1048.4,340.6 L1049.4,333.3 L1050.5,325.8 L1051.6,318.1 L1052.6,310.5 L1053.7,303.0 L1054.7,295.6 L1055.8,288.6 L1056.8,282.1 L1057.9,276.0 L1058.9,270.6 L1060.0,266.0 L1061.0,262.1 L1062.1,259.3 L1063.2,257.5 L1064.2,256.9 L1065.3,257.5 L1066.4,259.2 L1067.5,262.0 L1068.5,265.8 L1069.6,270.3 L1070.7,275.6 L1071.8,281.6 L1072.9,288.0 L1073.9,294.9 L1075.0,302.1 L1076.1,309.4 L1077.2,316.9 L1078.3,324.4 L1079.3,331.8 L1080.4,339.0 L1081.5,345.8 L1082.6,352.3 L1083.7,358.2 L1084.7,363.5 L1085.8,368.1 L1086.9,371.8 L1088.0,374.6 L1089.1,376.4 L1090.1,377.0 L1091.3,376.4 L1092.4,374.6 L1093.5,371.8 L1094.6,368.0 L1095.7,363.4 L1096.8,358.1 L1098.0,352.1 L1099.1,345.6 L1100.2,338.7 L1101.3,331.5 L1102.4,324.0 L1103.6,316.5 L1104.7,308.9 L1105.8,301.5 L1106.9,294.3 L1108.0,287.3 L1109.2,280.8 L1110.3,274.9 L1111.4,269.5 L1112.5,264.9 L1113.6,261.2 L1114.7,258.3 L1115.9,256.6 L1117.0,256.0 L1117.5,256.1 L1118.1,256.5 L1118.6,257.1 L1119.1,257.9 L1119.7,258.9 L1120.2,260.1 L1120.8,261.5 L1121.3,263.0 L1121.8,264.7 L1122.4,266.6 L1122.9,268.6 L1123.5,270.7 L1124.0,272.8 L1124.5,275.1 L1125.1,277.5 L1125.6,279.9 L1126.2,282.4 L1126.7,284.9 L1127.2,287.5 L1127.8,290.0 L1128.3,292.6 L1128.9,295.1 L1129.4,297.7 L1129.9,300.2 L1130.3,302.0 L1130.7,303.8 L1131.1,305.7 L1131.5,307.7 L1131.9,309.8 L1132.3,311.9 L1132.6,314.1 L1133.0,316.3 L1133.4,318.7 L1133.8,321.0 L1134.2,323.5 L1134.6,326.0 L1135.0,328.5 L1135.3,331.2 L1135.7,333.9 L1136.1,336.7 L1136.5,339.5 L1136.9,342.4 L1137.3,345.3 L1137.7,348.4 L1138.0,351.5 L1138.4,354.6 L1138.8,357.8 L1139.2,361.1 L1139.5,363.5 L1139.7,366.3 L1140.0,369.3 L1140.2,372.6 L1140.5,376.2 L1140.7,379.9 L1141.0,383.8 L1141.3,387.8 L1141.5,391.9 L1141.8,395.9 L1142.0,400.0 L1142.3,404.0 L1142.5,408.0 L1142.8,411.8 L1143.1,415.4 L1143.3,418.8 L1143.6,421.9 L1143.8,424.8 L1144.1,427.4 L1144.3,429.5 L1144.6,431.3 L1144.9,432.6 L1145.1,433.4 L1145.4,433.7 L1146.3,432.4 L1147.2,428.9 L1148.1,423.2 L1149.0,415.6 L1149.9,406.3 L1150.8,395.5 L1151.8,383.5 L1152.7,370.4 L1153.6,356.4 L1154.5,341.8 L1155.4,326.8 L1156.3,311.6 L1157.2,296.4 L1158.2,281.4 L1159.1,266.8 L1160.0,252.8 L1160.9,239.7 L1161.8,227.7 L1162.7,216.9 L1163.6,207.6 L1164.5,200.0 L1165.5,194.3 L1166.4,190.8 L1167.3,189.5 L1168.4,190.8 L1169.4,194.6 L1170.5,200.6 L1171.6,208.7 L1172.7,218.6 L1173.8,230.0 L1174.8,242.8 L1175.9,256.7 L1177.0,271.5 L1178.1,287.0 L1179.2,302.9 L1180.2,319.1 L1181.3,335.2 L1182.4,351.1 L1183.5,366.6 L1184.6,381.4 L1185.6,395.3 L1186.7,408.1 L1187.8,419.5 L1188.9,429.4 L1190.0,437.5 L1191.0,443.5 L1192.1,447.3 L1193.2,448.6 L1194.3,447.3 L1195.4,443.4 L1196.5,437.2 L1197.6,428.9 L1198.7,418.8 L1199.8,407.1 L1200.9,394.0 L1201.9,379.7 L1203.0,364.5 L1204.1,348.6 L1205.2,332.3 L1206.3,315.7 L1207.4,299.1 L1208.5,282.8 L1209.6,266.9 L1210.7,251.7 L1211.8,237.5 L1212.9,224.3 L1214.0,212.6 L1215.1,202.5 L1216.2,194.2 L1217.3,188.0 L1218.3,184.2 L1219.4,182.8 L1220.5,184.2 L1221.5,188.1 L1222.5,194.5 L1223.6,202.9 L1224.6,213.2 L1225.6,225.2 L1226.6,238.6 L1227.7,253.1 L1228.7,268.6 L1229.7,284.9 L1230.8,301.5 L1231.8,318.4 L1232.8,335.4 L1233.8,352.0 L1234.9,368.3 L1235.9,383.8 L1236.9,398.3 L1238.0,411.7 L1239.0,423.7 L1240.0,434.0 L1241.0,442.4 L1242.1,448.7 L1243.1,452.7 L1244.1,454.1 L1245.2,452.7 L1246.3,448.6 L1247.4,442.1 L1248.5,433.4 L1249.6,422.8 L1250.7,410.5 L1251.8,396.7 L1252.9,381.7 L1254.0,365.7 L1255.1,349.1 L1256.1,331.9 L1257.2,314.5 L1258.3,297.1 L1259.4,279.9 L1260.5,263.2 L1261.6,247.3 L1262.7,232.3 L1263.8,218.5 L1264.9,206.2 L1266.0,195.6 L1267.1,186.9 L1268.2,180.4 L1269.3,176.3 L1270.4,174.9 L1271.4,176.3 L1272.4,180.5 L1273.5,187.2 L1274.5,196.1 L1275.6,206.9 L1276.6,219.6 L1277.6,233.7 L1278.7,249.0 L1279.7,265.3 L1280.8,282.4 L1281.8,300.0 L1282.9,317.8 L1283.9,335.7 L1284.9,353.2 L1286.0,370.3 L1287.0,386.7 L1288.1,402.0 L1289.1,416.1 L1290.1,428.7 L1291.2,439.6 L1292.2,448.5 L1293.3,455.2 L1294.3,459.3 L1295.4,460.8 L1296.5,459.3 L1297.6,455.1 L1298.8,448.4 L1299.9,439.4 L1301.1,428.4 L1302.2,415.6 L1303.4,401.3 L1304.5,385.8 L1305.7,369.3 L1306.8,352.0 L1307.9,334.2 L1309.1,316.2 L1310.2,298.1 L1311.4,280.3 L1312.5,263.1 L1313.7,246.5 L1314.8,231.0 L1316.0,216.7 L1317.1,204.0 L1318.2,193.0 L1319.4,184.0 L1320.5,177.2 L1321.7,173.0 L1322.8,171.5 L1323.8,173.0 L1324.9,177.2 L1325.9,184.0 L1326.9,193.0 L1328.0,204.0 L1329.0,216.7 L1330.0,231.0 L1331.0,246.5 L1332.1,263.1 L1333.1,280.3 L1334.1,298.1 L1335.2,316.2 L1336.2,334.2 L1337.2,352.0 L1338.2,369.3 L1339.3,385.8 L1340.3,401.3 L1341.3,415.6 L1342.4,428.4 L1343.4,439.4 L1344.4,448.4 L1345.4,455.1 L1346.5,459.3 L1347.5,460.8 L1348.5,459.3 L1349.5,455.0 L1350.5,448.2 L1351.5,439.1 L1352.5,428.0 L1353.5,415.1 L1354.5,400.7 L1355.5,385.0 L1356.5,368.3 L1357.5,350.8 L1358.5,332.9 L1359.5,314.6 L1360.5,296.4 L1361.5,278.4 L1362.5,261.0 L1363.6,244.3 L1364.6,228.6 L1365.6,214.2 L1366.6,201.3 L1367.6,190.1 L1368.6,181.0 L1369.6,174.2 L1370.6,170.0 L1371.6,168.5 L1372.7,170.0 L1373.7,174.2 L1374.8,181.0 L1375.9,190.1 L1377.0,201.2 L1378.1,214.1 L1379.1,228.5 L1380.2,244.2 L1381.3,260.9 L1382.4,278.3 L1383.5,296.3 L1384.5,314.5 L1385.6,332.7 L1386.7,350.6 L1387.8,368.1 L1388.9,384.8 L1389.9,400.5 L1391.0,414.9 L1392.1,427.7 L1393.2,438.9 L1394.3,447.9 L1395.3,454.7 L1396.4,459.0 L1397.5,460.5 L1398.5,459.0 L1399.5,454.7 L1400.4,447.8 L1401.4,438.6 L1402.4,427.3 L1403.4,414.3 L1404.3,399.7 L1405.3,383.8 L1406.3,366.9 L1407.3,349.3 L1408.2,331.1 L1409.2,312.7 L1410.2,294.2 L1411.2,276.0 L1412.2,258.4 L1413.1,241.5 L1414.1,225.6 L1415.1,211.0 L1416.1,198.0 L1417.0,186.7 L1418.0,177.5 L1419.0,170.6 L1420.0,166.3 L1421.0,164.8 L1422.0,166.3 L1423.0,170.4 L1424.0,177.1 L1425.0,185.9 L1426.0,196.7 L1427.0,209.3 L1428.0,223.4 L1429.0,238.6 L1430.0,254.9 L1431.0,271.9 L1432.0,289.4 L1433.0,307.2 L1434.0,324.9 L1435.0,342.4 L1436.0,359.4 L1437.0,375.7 L1438.0,391.0 L1439.0,405.0 L1440.0,417.6 L1441.0,428.4 L1442.0,437.3 L1443.0,443.9 L1444.0,448.1 L1445.0,449.5 L1446.1,448.2 L1447.2,444.3 L1448.2,438.1 L1449.3,429.8 L1450.4,419.6 L1451.4,407.9 L1452.5,394.7 L1453.6,380.4 L1454.6,365.2 L1455.7,349.3 L1456.8,332.9 L1457.8,316.3 L1458.9,299.7 L1460.0,283.3 L1461.0,267.4 L1462.1,252.2 L1463.2,237.9 L1464.2,224.7 L1465.3,213.0 L1466.4,202.8 L1467.4,194.6 L1468.5,188.4 L1469.6,184.5 L1470.6,183.1 L1471.6,184.4 L1472.6,188.2 L1473.6,194.3 L1474.6,202.4 L1475.6,212.3 L1476.6,223.8 L1477.6,236.6 L1478.6,250.6 L1479.5,265.5 L1480.5,281.0 L1481.5,297.0 L1482.5,313.3 L1483.5,329.5 L1484.5,345.5 L1485.5,361.1 L1486.5,375.9 L1487.5,389.9 L1488.5,402.7 L1489.4,414.2 L1490.4,424.1 L1491.4,432.2 L1492.4,438.3 L1493.4,442.1 L1494.4,443.4 L1495.4,442.2 L1496.4,438.7 L1497.3,433.2 L1498.3,425.8 L1499.3,416.8 L1500.3,406.3 L1501.2,394.5 L1502.2,381.8 L1503.2,368.2 L1504.2,354.0 L1505.1,339.4 L1506.1,324.5 L1507.1,309.7 L1508.1,295.1 L1509.1,280.9 L1510.0,267.3 L1511.0,254.5 L1512.0,242.8 L1513.0,232.3 L1513.9,223.3 L1514.9,215.9 L1515.9,210.3 L1516.9,206.9 L1517.9,205.7 L1518.9,206.8 L1519.9,209.9 L1520.9,214.9 L1522.0,221.7 L1523.0,229.9 L1524.0,239.4 L1525.1,250.0 L1526.1,261.6 L1527.1,274.0 L1528.1,286.8 L1529.2,300.1 L1530.2,313.6 L1531.2,327.0 L1532.3,340.3 L1533.3,353.2 L1534.3,365.5 L1535.3,377.1 L1536.4,387.8 L1537.4,397.3 L1538.4,405.5 L1539.5,412.2 L1540.5,417.2 L1541.5,420.4 L1542.5,421.5 L1543.5,420.4 L1544.5,417.5 L1545.4,412.8 L1546.4,406.5 L1547.4,398.8 L1548.3,389.8 L1549.3,379.9 L1550.3,369.0 L1551.2,357.4 L1552.2,345.3 L1553.1,332.9 L1554.1,320.3 L1555.1,307.7 L1556.0,295.2 L1557.0,283.1 L1558.0,271.6 L1558.9,260.7 L1559.9,250.7 L1560.9,241.8 L1561.8,234.1 L1562.8,227.8 L1563.8,223.1 L1564.7,220.1 L1565.7,219.1 L1566.8,220.0 L1567.8,222.7 L1568.9,227.0 L1570.0,232.8 L1571.0,239.9 L1572.1,248.0 L1573.2,257.2 L1574.2,267.1 L1575.3,277.7 L1576.4,288.8 L1577.4,300.2 L1578.5,311.7 L1579.6,323.3 L1580.6,334.7 L1581.7,345.8 L1582.8,356.4 L1583.8,366.3 L1584.9,375.4 L1586.0,383.6 L1587.0,390.7 L1588.1,396.4 L1589.2,400.8 L1590.2,403.5 L1591.3,404.4 L1592.3,403.5 L1593.3,400.9 L1594.3,396.9 L1595.3,391.4 L1596.3,384.7 L1597.3,377.0 L1598.3,368.3 L1599.3,358.9 L1600.3,348.9 L1601.3,338.4 L1602.3,327.6 L1603.3,316.6 L1604.3,305.7 L1605.3,294.9 L1606.3,284.4 L1607.3,274.4 L1608.3,264.9 L1609.4,256.3 L1610.4,248.5 L1611.4,241.8 L1612.4,236.4 L1613.4,232.3 L1614.4,229.7 L1615.4,228.8 L1616.4,229.6 L1617.5,232.0 L1618.5,235.6 L1619.5,240.6 L1620.6,246.6 L1621.6,253.6 L1622.7,261.4 L1623.7,269.9 L1624.7,279.0 L1625.8,288.5 L1626.8,298.2 L1627.9,308.1 L1628.9,318.0 L1630.0,327.7 L1631.0,337.2 L1632.0,346.2 L1633.1,354.7 L1634.1,362.6 L1635.2,369.6 L1636.2,375.6 L1637.2,380.5 L1638.3,384.2 L1639.3,386.5 L1640.4,387.3 L1641.4,386.7 L1642.5,384.7 L1643.5,381.7 L1644.6,377.6 L1645.6,372.6 L1646.7,366.8 L1647.7,360.3 L1648.8,353.3 L1649.9,345.8 L1650.9,337.9 L1652.0,329.8 L1653.0,321.6 L1654.1,313.5 L1655.1,305.4 L1656.2,297.5 L1657.2,290.0 L1658.3,283.0 L1659.3,276.5 L1660.4,270.7 L1661.5,265.7 L1662.5,261.6 L1663.6,258.5 L1664.6,256.6 L1665.7,256.0 L1666.7,256.5 L1667.7,258.2 L1668.7,260.8 L1669.7,264.3 L1670.8,268.5 L1671.8,273.4 L1672.8,279.0 L1673.8,285.0 L1674.8,291.4 L1675.8,298.0 L1676.8,304.9 L1677.9,311.9 L1678.9,318.9 L1679.9,325.7 L1680.9,332.4 L1681.9,338.8 L1682.9,344.8 L1684.0,350.3 L1685.0,355.3 L1686.0,359.5 L1687.0,363.0 L1688.0,365.6 L1689.0,367.3 L1690.1,367.8 L1691.0,367.4 L1692.0,366.2 L1692.9,364.2 L1693.9,361.6 L1694.9,358.4 L1695.8,354.7 L1696.8,350.6 L1697.8,346.1 L1698.7,341.3 L1699.7,336.3 L1700.7,331.1 L1701.6,325.9 L1702.6,320.7 L1703.6,315.5 L1704.5,310.5 L1705.5,305.7 L1706.4,301.2 L1707.4,297.1 L1708.4,293.4 L1709.3,290.2 L1710.3,287.6 L1711.3,285.7 L1712.2,284.4 L1713.2,284.0 L1713.7,284.1 L1714.2,284.3 L1714.7,284.7 L1715.3,285.1 L1715.8,285.7 L1716.3,286.4 L1716.8,287.2 L1717.3,288.1 L1717.8,289.1 L1718.3,290.1 L1718.9,291.2 L1719.4,292.3 L1719.9,293.5 L1720.4,294.7 L1720.9,296.0 L1721.4,297.2 L1721.9,298.4 L1722.5,299.7 L1723.0,300.9 L1723.5,302.0 L1724.0,303.2 L1724.5,304.3 L1725.0,305.3 L1725.5,306.3" fill="none" stroke="#111111" stroke-width="2.6" stroke-dasharray="18.8 9.7"/>
<rect x="1621" y="30" width="115.7" height="126" fill="#fff" stroke="#3c3c3c" stroke-width="2"/>
<path d="M1627.7,53.5H1699.4" stroke="#111111" stroke-width="2.6" stroke-dasharray="18.8 9.7" fill="none"/>
<path d="M1627.7,93.3H1699.4" stroke="#2016a8" stroke-width="2.7" stroke-dasharray="15.3 5.1 3 5.1" fill="none"/>
<path d="M1627.7,133.4H1695.4" stroke="#d4aeda" stroke-width="2" stroke-dasharray="2.6 4.56" fill="none"/>
<text class="al" x="1704.5" y="58.1">α</text>
<text class="sub" x="1719.0" y="68.0">1</text>
<text class="al" x="1704.5" y="97.9">α</text>
<text class="sub" x="1719.0" y="107.8">2</text>
<text class="al" x="1704.5" y="138.0">α</text>
<text class="sub" x="1719.0" y="147.9">3</text>
<text class="lb" x="458.5" y="688.3" text-anchor="middle">Time/hours</text>
<text class="lb" x="1368.5" y="688.3" text-anchor="middle">Time/hours</text>
<text class="lb" transform="translate(22.8,316.8) rotate(-90) scale(0.968,1)" text-anchor="middle">Angles/deg</text>
<text class="lb" transform="translate(923.3,316.8) rotate(-90) scale(0.968,1)" text-anchor="middle">Angles/deg</text>
<text class="cap" x="457.5" y="745.8" text-anchor="middle">a. Lyapunov</text>
<text class="cap" x="1369" y="745.8" text-anchor="middle">b. LQR</text>
</g>
</svg></body></html>
